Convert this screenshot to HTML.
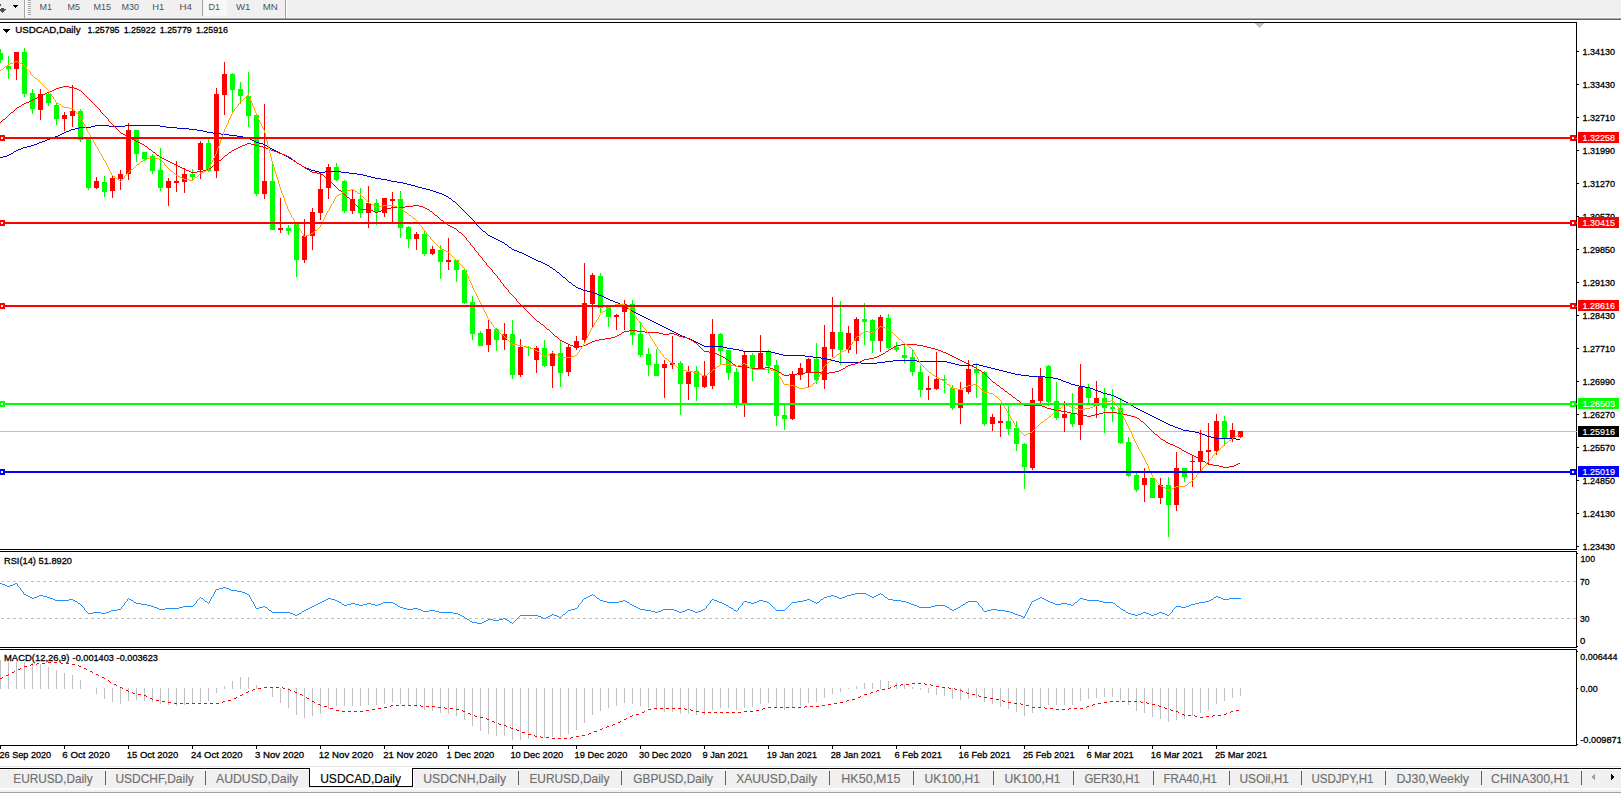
<!DOCTYPE html>
<html lang="en"><head><meta charset="utf-8"><title>USDCAD,Daily</title>
<style>html,body{margin:0;padding:0;background:#fff;overflow:hidden}svg{display:block}text{font-family:"Liberation Sans",sans-serif;white-space:pre}</style>
</head><body>
<svg width="1621" height="793" viewBox="0 0 1621 793">
<rect x="0" y="0" width="1621" height="793" fill="#fff"/>
<g shape-rendering="crispEdges">
<rect x="0" y="0" width="1621" height="17" fill="#f0f0f0"/>
<rect x="0" y="17" width="1621" height="1" fill="#f6f6f6"/>
<rect x="0" y="18" width="1621" height="1" fill="#a6a6a6"/>
<rect x="0" y="19" width="1621" height="1" fill="#666666"/>
<rect x="0" y="4" width="1" height="2" fill="#505050"/>
<rect x="1" y="8" width="3" height="1" fill="#505050"/>
<rect x="0" y="9" width="6" height="1" fill="#505050"/>
<rect x="0" y="10" width="5" height="1" fill="#505050"/>
<rect x="1" y="11" width="3" height="1" fill="#505050"/>
<rect x="2" y="12" width="1" height="1" fill="#505050"/>
<rect x="13" y="5" width="5" height="1" fill="#000"/>
<rect x="14" y="6" width="3" height="1" fill="#000"/>
<rect x="15" y="7" width="1" height="1" fill="#000"/>
<rect x="24" y="0" width="1" height="18" fill="#a0a0a0"/>
<rect x="25" y="0" width="1" height="17" fill="#fff"/>
<rect x="28" y="0" width="3" height="1" fill="#a8a8a8"/>
<rect x="28" y="2" width="3" height="1" fill="#a8a8a8"/>
<rect x="28" y="4" width="3" height="1" fill="#a8a8a8"/>
<rect x="28" y="6" width="3" height="1" fill="#a8a8a8"/>
<rect x="28" y="8" width="3" height="1" fill="#a8a8a8"/>
<rect x="28" y="10" width="3" height="1" fill="#a8a8a8"/>
<rect x="28" y="12" width="3" height="1" fill="#a8a8a8"/>
<rect x="28" y="14" width="3" height="1" fill="#a8a8a8"/>
<rect x="202" y="0" width="1" height="16" fill="#a0a0a0"/>
<rect x="203" y="0" width="24" height="16" fill="#f7f7f7"/>
<rect x="285" y="0" width="1" height="18" fill="#a0a0a0"/>
<rect x="286" y="0" width="1" height="17" fill="#fff"/>
<rect x="0" y="22" width="1577" height="1" fill="#000"/>
<rect x="1576" y="22" width="1" height="528" fill="#000"/>
<rect x="0" y="549" width="1577" height="1" fill="#000"/>
<rect x="0" y="551" width="1577" height="1" fill="#000"/>
<rect x="1576" y="551" width="1" height="97" fill="#000"/>
<rect x="0" y="647" width="1577" height="1" fill="#000"/>
<rect x="0" y="649" width="1577" height="1" fill="#000"/>
<rect x="1576" y="649" width="1" height="97" fill="#000"/>
<rect x="0" y="745" width="1577" height="1" fill="#000"/>
<path d="M1255 23h9v1h-9zM1256 24h7v1h-7zM1257 25h5v1h-5zM1258 26h3v1h-3zM1259 27h1v1h-1z" fill="#c0c0c0"/>
<rect x="0" y="746" width="1" height="3" fill="#000"/>
<rect x="64" y="746" width="1" height="3" fill="#000"/>
<rect x="128" y="746" width="1" height="3" fill="#000"/>
<rect x="192" y="746" width="1" height="3" fill="#000"/>
<rect x="256" y="746" width="1" height="3" fill="#000"/>
<rect x="320" y="746" width="1" height="3" fill="#000"/>
<rect x="384" y="746" width="1" height="3" fill="#000"/>
<rect x="448" y="746" width="1" height="3" fill="#000"/>
<rect x="512" y="746" width="1" height="3" fill="#000"/>
<rect x="576" y="746" width="1" height="3" fill="#000"/>
<rect x="640" y="746" width="1" height="3" fill="#000"/>
<rect x="704" y="746" width="1" height="3" fill="#000"/>
<rect x="768" y="746" width="1" height="3" fill="#000"/>
<rect x="832" y="746" width="1" height="3" fill="#000"/>
<rect x="896" y="746" width="1" height="3" fill="#000"/>
<rect x="960" y="746" width="1" height="3" fill="#000"/>
<rect x="1024" y="746" width="1" height="3" fill="#000"/>
<rect x="1088" y="746" width="1" height="3" fill="#000"/>
<rect x="1152" y="746" width="1" height="3" fill="#000"/>
<rect x="1216" y="746" width="1" height="3" fill="#000"/>
<rect x="1577" y="51" width="2" height="1" fill="#000"/>
<rect x="1577" y="84" width="2" height="1" fill="#000"/>
<rect x="1577" y="117" width="2" height="1" fill="#000"/>
<rect x="1577" y="150" width="2" height="1" fill="#000"/>
<rect x="1577" y="183" width="2" height="1" fill="#000"/>
<rect x="1577" y="216" width="2" height="1" fill="#000"/>
<rect x="1577" y="249" width="2" height="1" fill="#000"/>
<rect x="1577" y="282" width="2" height="1" fill="#000"/>
<rect x="1577" y="315" width="2" height="1" fill="#000"/>
<rect x="1577" y="348" width="2" height="1" fill="#000"/>
<rect x="1577" y="381" width="2" height="1" fill="#000"/>
<rect x="1577" y="414" width="2" height="1" fill="#000"/>
<rect x="1577" y="447" width="2" height="1" fill="#000"/>
<rect x="1577" y="480" width="2" height="1" fill="#000"/>
<rect x="1577" y="513" width="2" height="1" fill="#000"/>
<rect x="1577" y="546" width="2" height="1" fill="#000"/>
<rect x="1577" y="553" width="1" height="1" fill="#000"/>
<rect x="1577" y="646" width="1" height="1" fill="#000"/>
<rect x="1577" y="651" width="1" height="1" fill="#000"/>
<rect x="1577" y="688" width="1" height="1" fill="#000"/>
<rect x="1577" y="744" width="1" height="1" fill="#000"/>
<rect x="0" y="431" width="1577" height="1" fill="#c0c0c0"/>
<rect x="0" y="49" width="1" height="14" fill="#00ff00"/>
<rect x="0" y="53" width="3" height="7" fill="#00ff00"/>
<rect x="8" y="56" width="1" height="23" fill="#00ff00"/>
<rect x="6" y="66" width="5" height="3" fill="#00ff00"/>
<rect x="16" y="52" width="1" height="28" fill="#ff0000"/>
<rect x="14" y="52" width="5" height="17" fill="#ff0000"/>
<rect x="24" y="48" width="1" height="49" fill="#00ff00"/>
<rect x="22" y="52" width="5" height="42" fill="#00ff00"/>
<rect x="32" y="89" width="1" height="25" fill="#00ff00"/>
<rect x="30" y="93" width="5" height="16" fill="#00ff00"/>
<rect x="40" y="89" width="1" height="31" fill="#ff0000"/>
<rect x="38" y="94" width="5" height="16" fill="#ff0000"/>
<rect x="48" y="93" width="1" height="13" fill="#00ff00"/>
<rect x="46" y="94" width="5" height="9" fill="#00ff00"/>
<rect x="56" y="103" width="1" height="22" fill="#00ff00"/>
<rect x="54" y="105" width="5" height="14" fill="#00ff00"/>
<rect x="64" y="112" width="1" height="19" fill="#ff0000"/>
<rect x="62" y="115" width="5" height="4" fill="#ff0000"/>
<rect x="72" y="85" width="1" height="42" fill="#ff0000"/>
<rect x="70" y="111" width="5" height="5" fill="#ff0000"/>
<rect x="80" y="109" width="1" height="33" fill="#00ff00"/>
<rect x="78" y="111" width="5" height="29" fill="#00ff00"/>
<rect x="88" y="139" width="1" height="51" fill="#00ff00"/>
<rect x="86" y="139" width="5" height="49" fill="#00ff00"/>
<rect x="96" y="177" width="1" height="12" fill="#ff0000"/>
<rect x="94" y="181" width="5" height="7" fill="#ff0000"/>
<rect x="104" y="176" width="1" height="21" fill="#00ff00"/>
<rect x="102" y="182" width="5" height="10" fill="#00ff00"/>
<rect x="112" y="175" width="1" height="23" fill="#ff0000"/>
<rect x="110" y="178" width="5" height="13" fill="#ff0000"/>
<rect x="120" y="170" width="1" height="20" fill="#ff0000"/>
<rect x="118" y="174" width="5" height="5" fill="#ff0000"/>
<rect x="128" y="123" width="1" height="57" fill="#ff0000"/>
<rect x="126" y="130" width="5" height="44" fill="#ff0000"/>
<rect x="136" y="130" width="1" height="32" fill="#00ff00"/>
<rect x="134" y="130" width="5" height="24" fill="#00ff00"/>
<rect x="144" y="152" width="1" height="9" fill="#00ff00"/>
<rect x="142" y="152" width="5" height="7" fill="#00ff00"/>
<rect x="152" y="154" width="1" height="20" fill="#00ff00"/>
<rect x="150" y="156" width="5" height="15" fill="#00ff00"/>
<rect x="160" y="148" width="1" height="43" fill="#00ff00"/>
<rect x="158" y="170" width="5" height="18" fill="#00ff00"/>
<rect x="168" y="178" width="1" height="28" fill="#ff0000"/>
<rect x="166" y="181" width="5" height="7" fill="#ff0000"/>
<rect x="176" y="161" width="1" height="31" fill="#ff0000"/>
<rect x="174" y="181" width="5" height="2" fill="#ff0000"/>
<rect x="184" y="168" width="1" height="25" fill="#ff0000"/>
<rect x="182" y="174" width="5" height="8" fill="#ff0000"/>
<rect x="192" y="169" width="1" height="11" fill="#00ff00"/>
<rect x="190" y="174" width="5" height="3" fill="#00ff00"/>
<rect x="200" y="141" width="1" height="38" fill="#ff0000"/>
<rect x="198" y="143" width="5" height="27" fill="#ff0000"/>
<rect x="208" y="139" width="1" height="33" fill="#00ff00"/>
<rect x="206" y="143" width="5" height="28" fill="#00ff00"/>
<rect x="216" y="88" width="1" height="90" fill="#ff0000"/>
<rect x="214" y="94" width="5" height="77" fill="#ff0000"/>
<rect x="224" y="62" width="1" height="53" fill="#ff0000"/>
<rect x="222" y="74" width="5" height="21" fill="#ff0000"/>
<rect x="232" y="73" width="1" height="41" fill="#00ff00"/>
<rect x="230" y="74" width="5" height="16" fill="#00ff00"/>
<rect x="240" y="82" width="1" height="22" fill="#00ff00"/>
<rect x="238" y="89" width="5" height="7" fill="#00ff00"/>
<rect x="248" y="72" width="1" height="55" fill="#00ff00"/>
<rect x="246" y="96" width="5" height="20" fill="#00ff00"/>
<rect x="256" y="115" width="1" height="81" fill="#00ff00"/>
<rect x="254" y="115" width="5" height="79" fill="#00ff00"/>
<rect x="264" y="104" width="1" height="95" fill="#ff0000"/>
<rect x="262" y="181" width="5" height="13" fill="#ff0000"/>
<rect x="272" y="161" width="1" height="69" fill="#00ff00"/>
<rect x="270" y="181" width="5" height="49" fill="#00ff00"/>
<rect x="280" y="198" width="1" height="35" fill="#ff0000"/>
<rect x="278" y="228" width="5" height="2" fill="#ff0000"/>
<rect x="288" y="225" width="1" height="10" fill="#00ff00"/>
<rect x="286" y="228" width="5" height="3" fill="#00ff00"/>
<rect x="296" y="224" width="1" height="53" fill="#00ff00"/>
<rect x="294" y="224" width="5" height="36" fill="#00ff00"/>
<rect x="304" y="219" width="1" height="44" fill="#ff0000"/>
<rect x="302" y="236" width="5" height="24" fill="#ff0000"/>
<rect x="312" y="208" width="1" height="42" fill="#ff0000"/>
<rect x="310" y="212" width="5" height="24" fill="#ff0000"/>
<rect x="320" y="174" width="1" height="46" fill="#ff0000"/>
<rect x="318" y="189" width="5" height="24" fill="#ff0000"/>
<rect x="328" y="164" width="1" height="35" fill="#ff0000"/>
<rect x="326" y="167" width="5" height="21" fill="#ff0000"/>
<rect x="336" y="163" width="1" height="18" fill="#00ff00"/>
<rect x="334" y="167" width="5" height="13" fill="#00ff00"/>
<rect x="344" y="180" width="1" height="33" fill="#00ff00"/>
<rect x="342" y="181" width="5" height="30" fill="#00ff00"/>
<rect x="352" y="190" width="1" height="24" fill="#ff0000"/>
<rect x="350" y="199" width="5" height="12" fill="#ff0000"/>
<rect x="360" y="188" width="1" height="30" fill="#00ff00"/>
<rect x="358" y="199" width="5" height="14" fill="#00ff00"/>
<rect x="368" y="186" width="1" height="42" fill="#ff0000"/>
<rect x="366" y="203" width="5" height="10" fill="#ff0000"/>
<rect x="376" y="199" width="1" height="26" fill="#00ff00"/>
<rect x="374" y="203" width="5" height="9" fill="#00ff00"/>
<rect x="384" y="198" width="1" height="19" fill="#ff0000"/>
<rect x="382" y="198" width="5" height="15" fill="#ff0000"/>
<rect x="392" y="192" width="1" height="31" fill="#ff0000"/>
<rect x="390" y="199" width="5" height="2" fill="#ff0000"/>
<rect x="400" y="191" width="1" height="47" fill="#00ff00"/>
<rect x="398" y="199" width="5" height="29" fill="#00ff00"/>
<rect x="408" y="226" width="1" height="22" fill="#00ff00"/>
<rect x="406" y="227" width="5" height="12" fill="#00ff00"/>
<rect x="416" y="232" width="1" height="18" fill="#ff0000"/>
<rect x="414" y="234" width="5" height="5" fill="#ff0000"/>
<rect x="424" y="231" width="1" height="25" fill="#00ff00"/>
<rect x="422" y="234" width="5" height="20" fill="#00ff00"/>
<rect x="432" y="246" width="1" height="9" fill="#ff0000"/>
<rect x="430" y="249" width="5" height="5" fill="#ff0000"/>
<rect x="440" y="245" width="1" height="34" fill="#00ff00"/>
<rect x="438" y="250" width="5" height="12" fill="#00ff00"/>
<rect x="448" y="238" width="1" height="32" fill="#ff0000"/>
<rect x="446" y="260" width="5" height="2" fill="#ff0000"/>
<rect x="456" y="260" width="1" height="22" fill="#00ff00"/>
<rect x="454" y="260" width="5" height="10" fill="#00ff00"/>
<rect x="464" y="270" width="1" height="34" fill="#00ff00"/>
<rect x="462" y="270" width="5" height="33" fill="#00ff00"/>
<rect x="472" y="296" width="1" height="44" fill="#00ff00"/>
<rect x="470" y="302" width="5" height="32" fill="#00ff00"/>
<rect x="480" y="331" width="1" height="15" fill="#00ff00"/>
<rect x="478" y="333" width="5" height="13" fill="#00ff00"/>
<rect x="488" y="320" width="1" height="32" fill="#ff0000"/>
<rect x="486" y="329" width="5" height="16" fill="#ff0000"/>
<rect x="496" y="328" width="1" height="23" fill="#00ff00"/>
<rect x="494" y="329" width="5" height="11" fill="#00ff00"/>
<rect x="504" y="323" width="1" height="27" fill="#ff0000"/>
<rect x="502" y="334" width="5" height="6" fill="#ff0000"/>
<rect x="512" y="320" width="1" height="59" fill="#00ff00"/>
<rect x="510" y="334" width="5" height="41" fill="#00ff00"/>
<rect x="520" y="339" width="1" height="38" fill="#ff0000"/>
<rect x="518" y="347" width="5" height="28" fill="#ff0000"/>
<rect x="528" y="346" width="1" height="10" fill="#00ff00"/>
<rect x="526" y="347" width="5" height="1" fill="#00ff00"/>
<rect x="536" y="346" width="1" height="27" fill="#ff0000"/>
<rect x="534" y="348" width="5" height="12" fill="#ff0000"/>
<rect x="544" y="340" width="1" height="27" fill="#00ff00"/>
<rect x="542" y="348" width="5" height="18" fill="#00ff00"/>
<rect x="552" y="351" width="1" height="37" fill="#ff0000"/>
<rect x="550" y="353" width="5" height="13" fill="#ff0000"/>
<rect x="560" y="341" width="1" height="46" fill="#00ff00"/>
<rect x="558" y="353" width="5" height="20" fill="#00ff00"/>
<rect x="568" y="344" width="1" height="32" fill="#ff0000"/>
<rect x="566" y="347" width="5" height="25" fill="#ff0000"/>
<rect x="576" y="336" width="1" height="14" fill="#ff0000"/>
<rect x="574" y="341" width="5" height="7" fill="#ff0000"/>
<rect x="584" y="263" width="1" height="79" fill="#ff0000"/>
<rect x="582" y="303" width="5" height="37" fill="#ff0000"/>
<rect x="592" y="273" width="1" height="55" fill="#ff0000"/>
<rect x="590" y="275" width="5" height="29" fill="#ff0000"/>
<rect x="600" y="273" width="1" height="40" fill="#00ff00"/>
<rect x="598" y="276" width="5" height="32" fill="#00ff00"/>
<rect x="608" y="306" width="1" height="21" fill="#00ff00"/>
<rect x="606" y="306" width="5" height="11" fill="#00ff00"/>
<rect x="616" y="314" width="1" height="16" fill="#ff0000"/>
<rect x="614" y="315" width="5" height="2" fill="#ff0000"/>
<rect x="624" y="300" width="1" height="30" fill="#ff0000"/>
<rect x="622" y="304" width="5" height="8" fill="#ff0000"/>
<rect x="632" y="300" width="1" height="45" fill="#00ff00"/>
<rect x="630" y="304" width="5" height="31" fill="#00ff00"/>
<rect x="640" y="322" width="1" height="35" fill="#00ff00"/>
<rect x="638" y="334" width="5" height="21" fill="#00ff00"/>
<rect x="648" y="348" width="1" height="28" fill="#00ff00"/>
<rect x="646" y="354" width="5" height="11" fill="#00ff00"/>
<rect x="656" y="349" width="1" height="27" fill="#00ff00"/>
<rect x="654" y="364" width="5" height="12" fill="#00ff00"/>
<rect x="664" y="360" width="1" height="38" fill="#ff0000"/>
<rect x="662" y="364" width="5" height="4" fill="#ff0000"/>
<rect x="672" y="336" width="1" height="33" fill="#ff0000"/>
<rect x="670" y="363" width="5" height="2" fill="#ff0000"/>
<rect x="680" y="361" width="1" height="54" fill="#00ff00"/>
<rect x="678" y="363" width="5" height="21" fill="#00ff00"/>
<rect x="688" y="366" width="1" height="34" fill="#ff0000"/>
<rect x="686" y="372" width="5" height="12" fill="#ff0000"/>
<rect x="696" y="366" width="1" height="35" fill="#00ff00"/>
<rect x="694" y="371" width="5" height="16" fill="#00ff00"/>
<rect x="704" y="361" width="1" height="27" fill="#ff0000"/>
<rect x="702" y="376" width="5" height="11" fill="#ff0000"/>
<rect x="712" y="319" width="1" height="70" fill="#ff0000"/>
<rect x="710" y="334" width="5" height="52" fill="#ff0000"/>
<rect x="720" y="333" width="1" height="31" fill="#00ff00"/>
<rect x="718" y="334" width="5" height="17" fill="#00ff00"/>
<rect x="728" y="350" width="1" height="30" fill="#00ff00"/>
<rect x="726" y="350" width="5" height="23" fill="#00ff00"/>
<rect x="736" y="368" width="1" height="40" fill="#00ff00"/>
<rect x="734" y="372" width="5" height="32" fill="#00ff00"/>
<rect x="744" y="351" width="1" height="66" fill="#ff0000"/>
<rect x="742" y="355" width="5" height="48" fill="#ff0000"/>
<rect x="752" y="353" width="1" height="28" fill="#00ff00"/>
<rect x="750" y="355" width="5" height="14" fill="#00ff00"/>
<rect x="760" y="335" width="1" height="34" fill="#ff0000"/>
<rect x="758" y="353" width="5" height="16" fill="#ff0000"/>
<rect x="768" y="350" width="1" height="23" fill="#00ff00"/>
<rect x="766" y="351" width="5" height="15" fill="#00ff00"/>
<rect x="776" y="360" width="1" height="66" fill="#00ff00"/>
<rect x="774" y="365" width="5" height="51" fill="#00ff00"/>
<rect x="784" y="405" width="1" height="25" fill="#00ff00"/>
<rect x="782" y="415" width="5" height="4" fill="#00ff00"/>
<rect x="792" y="371" width="1" height="49" fill="#ff0000"/>
<rect x="790" y="374" width="5" height="45" fill="#ff0000"/>
<rect x="800" y="363" width="1" height="17" fill="#ff0000"/>
<rect x="798" y="368" width="5" height="7" fill="#ff0000"/>
<rect x="808" y="358" width="1" height="29" fill="#ff0000"/>
<rect x="806" y="359" width="5" height="14" fill="#ff0000"/>
<rect x="816" y="343" width="1" height="41" fill="#00ff00"/>
<rect x="814" y="359" width="5" height="21" fill="#00ff00"/>
<rect x="824" y="325" width="1" height="64" fill="#ff0000"/>
<rect x="822" y="347" width="5" height="33" fill="#ff0000"/>
<rect x="832" y="297" width="1" height="60" fill="#ff0000"/>
<rect x="830" y="332" width="5" height="17" fill="#ff0000"/>
<rect x="840" y="301" width="1" height="64" fill="#00ff00"/>
<rect x="838" y="332" width="5" height="18" fill="#00ff00"/>
<rect x="848" y="326" width="1" height="27" fill="#ff0000"/>
<rect x="846" y="333" width="5" height="17" fill="#ff0000"/>
<rect x="856" y="317" width="1" height="37" fill="#ff0000"/>
<rect x="854" y="319" width="5" height="22" fill="#ff0000"/>
<rect x="864" y="303" width="1" height="42" fill="#00ff00"/>
<rect x="862" y="319" width="5" height="3" fill="#00ff00"/>
<rect x="872" y="319" width="1" height="34" fill="#00ff00"/>
<rect x="870" y="320" width="5" height="21" fill="#00ff00"/>
<rect x="880" y="315" width="1" height="37" fill="#ff0000"/>
<rect x="878" y="317" width="5" height="24" fill="#ff0000"/>
<rect x="888" y="314" width="1" height="35" fill="#00ff00"/>
<rect x="886" y="318" width="5" height="30" fill="#00ff00"/>
<rect x="896" y="342" width="1" height="10" fill="#00ff00"/>
<rect x="894" y="347" width="5" height="3" fill="#00ff00"/>
<rect x="904" y="343" width="1" height="20" fill="#00ff00"/>
<rect x="902" y="355" width="5" height="3" fill="#00ff00"/>
<rect x="912" y="349" width="1" height="27" fill="#00ff00"/>
<rect x="910" y="357" width="5" height="15" fill="#00ff00"/>
<rect x="920" y="365" width="1" height="32" fill="#00ff00"/>
<rect x="918" y="372" width="5" height="18" fill="#00ff00"/>
<rect x="928" y="376" width="1" height="24" fill="#ff0000"/>
<rect x="926" y="388" width="5" height="2" fill="#ff0000"/>
<rect x="936" y="352" width="1" height="38" fill="#ff0000"/>
<rect x="934" y="379" width="5" height="10" fill="#ff0000"/>
<rect x="944" y="375" width="1" height="18" fill="#00ff00"/>
<rect x="942" y="379" width="5" height="1" fill="#00ff00"/>
<rect x="952" y="385" width="1" height="25" fill="#00ff00"/>
<rect x="950" y="388" width="5" height="20" fill="#00ff00"/>
<rect x="960" y="382" width="1" height="42" fill="#ff0000"/>
<rect x="958" y="390" width="5" height="18" fill="#ff0000"/>
<rect x="968" y="360" width="1" height="34" fill="#ff0000"/>
<rect x="966" y="369" width="5" height="23" fill="#ff0000"/>
<rect x="976" y="363" width="1" height="35" fill="#00ff00"/>
<rect x="974" y="369" width="5" height="4" fill="#00ff00"/>
<rect x="984" y="371" width="1" height="55" fill="#00ff00"/>
<rect x="982" y="372" width="5" height="52" fill="#00ff00"/>
<rect x="992" y="414" width="1" height="17" fill="#ff0000"/>
<rect x="990" y="417" width="5" height="7" fill="#ff0000"/>
<rect x="1000" y="405" width="1" height="32" fill="#ff0000"/>
<rect x="998" y="421" width="5" height="2" fill="#ff0000"/>
<rect x="1008" y="406" width="1" height="29" fill="#00ff00"/>
<rect x="1006" y="421" width="5" height="8" fill="#00ff00"/>
<rect x="1016" y="421" width="1" height="30" fill="#00ff00"/>
<rect x="1014" y="428" width="5" height="16" fill="#00ff00"/>
<rect x="1024" y="443" width="1" height="46" fill="#00ff00"/>
<rect x="1022" y="444" width="5" height="23" fill="#00ff00"/>
<rect x="1032" y="388" width="1" height="82" fill="#ff0000"/>
<rect x="1030" y="400" width="5" height="68" fill="#ff0000"/>
<rect x="1040" y="368" width="1" height="35" fill="#ff0000"/>
<rect x="1038" y="376" width="5" height="25" fill="#ff0000"/>
<rect x="1048" y="365" width="1" height="41" fill="#00ff00"/>
<rect x="1046" y="366" width="5" height="36" fill="#00ff00"/>
<rect x="1056" y="382" width="1" height="38" fill="#00ff00"/>
<rect x="1054" y="401" width="5" height="17" fill="#00ff00"/>
<rect x="1064" y="401" width="1" height="31" fill="#ff0000"/>
<rect x="1062" y="414" width="5" height="4" fill="#ff0000"/>
<rect x="1072" y="393" width="1" height="34" fill="#00ff00"/>
<rect x="1070" y="414" width="5" height="10" fill="#00ff00"/>
<rect x="1080" y="364" width="1" height="76" fill="#ff0000"/>
<rect x="1078" y="387" width="5" height="38" fill="#ff0000"/>
<rect x="1088" y="384" width="1" height="19" fill="#00ff00"/>
<rect x="1086" y="388" width="5" height="10" fill="#00ff00"/>
<rect x="1096" y="381" width="1" height="37" fill="#ff0000"/>
<rect x="1094" y="398" width="5" height="8" fill="#ff0000"/>
<rect x="1104" y="388" width="1" height="45" fill="#00ff00"/>
<rect x="1102" y="398" width="5" height="10" fill="#00ff00"/>
<rect x="1112" y="389" width="1" height="33" fill="#00ff00"/>
<rect x="1110" y="407" width="5" height="2" fill="#00ff00"/>
<rect x="1120" y="398" width="1" height="46" fill="#00ff00"/>
<rect x="1118" y="408" width="5" height="35" fill="#00ff00"/>
<rect x="1128" y="437" width="1" height="40" fill="#00ff00"/>
<rect x="1126" y="442" width="5" height="34" fill="#00ff00"/>
<rect x="1136" y="473" width="1" height="19" fill="#00ff00"/>
<rect x="1134" y="475" width="5" height="15" fill="#00ff00"/>
<rect x="1144" y="468" width="1" height="34" fill="#ff0000"/>
<rect x="1142" y="478" width="5" height="7" fill="#ff0000"/>
<rect x="1152" y="478" width="1" height="20" fill="#00ff00"/>
<rect x="1150" y="478" width="5" height="20" fill="#00ff00"/>
<rect x="1160" y="478" width="1" height="26" fill="#ff0000"/>
<rect x="1158" y="485" width="5" height="13" fill="#ff0000"/>
<rect x="1168" y="477" width="1" height="60" fill="#00ff00"/>
<rect x="1166" y="485" width="5" height="20" fill="#00ff00"/>
<rect x="1176" y="452" width="1" height="59" fill="#ff0000"/>
<rect x="1174" y="468" width="5" height="37" fill="#ff0000"/>
<rect x="1184" y="468" width="1" height="14" fill="#00ff00"/>
<rect x="1182" y="468" width="5" height="9" fill="#00ff00"/>
<rect x="1192" y="455" width="1" height="32" fill="#ff0000"/>
<rect x="1190" y="461" width="5" height="1" fill="#ff0000"/>
<rect x="1200" y="430" width="1" height="41" fill="#ff0000"/>
<rect x="1198" y="451" width="5" height="11" fill="#ff0000"/>
<rect x="1208" y="423" width="1" height="41" fill="#ff0000"/>
<rect x="1206" y="450" width="5" height="2" fill="#ff0000"/>
<rect x="1216" y="414" width="1" height="41" fill="#ff0000"/>
<rect x="1214" y="421" width="5" height="30" fill="#ff0000"/>
<rect x="1224" y="416" width="1" height="30" fill="#00ff00"/>
<rect x="1222" y="421" width="5" height="17" fill="#00ff00"/>
<rect x="1232" y="423" width="1" height="19" fill="#ff0000"/>
<rect x="1230" y="430" width="5" height="8" fill="#ff0000"/>
<rect x="1240" y="431" width="1" height="7" fill="#ff0000"/>
<rect x="1238" y="431" width="5" height="6" fill="#ff0000"/>
<path d="M95 125h14v1h-14zM125 125h35v1h-35zM91 126h4v1h-4zM109 126h16v1h-16zM160 126h6v1h-6zM79 127h12v1h-12zM166 127h11v1h-11zM75 128h4v1h-4zM177 128h12v1h-12zM71 129h4v1h-4zM189 129h8v1h-8zM69 130h2v1h-2zM197 130h6v1h-6zM66 131h3v1h-3zM203 131h4v1h-4zM64 132h2v1h-2zM207 132h6v1h-6zM62 133h2v1h-2zM213 133h8v1h-8zM60 134h2v1h-2zM221 134h8v1h-8zM58 135h2v1h-2zM229 135h8v1h-8zM55 136h3v1h-3zM237 136h6v1h-6zM53 137h2v1h-2zM243 137h4v1h-4zM50 138h3v1h-3zM247 138h3v1h-3zM47 139h3v1h-3zM250 139h2v1h-2zM45 140h2v1h-2zM252 140h2v1h-2zM42 141h3v1h-3zM254 141h2v1h-2zM39 142h3v1h-3zM256 142h3v1h-3zM37 143h2v1h-2zM259 143h4v1h-4zM34 144h3v1h-3zM263 144h2v1h-2zM31 145h3v1h-3zM265 145h2v1h-2zM27 146h4v1h-4zM267 146h2v1h-2zM23 147h4v1h-4zM269 147h1v1h-1zM21 148h2v1h-2zM270 148h2v1h-2zM18 149h3v1h-3zM272 149h2v1h-2zM16 150h2v1h-2zM274 150h2v1h-2zM14 151h2v1h-2zM276 151h2v1h-2zM13 152h1v1h-1zM278 152h2v1h-2zM11 153h2v1h-2zM280 153h2v1h-2zM9 154h2v1h-2zM282 154h2v1h-2zM7 155h2v1h-2zM284 155h2v1h-2zM3 156h4v1h-4zM286 156h2v1h-2zM0 157h3v1h-3zM288 157h1v1h-1zM289 158h2v1h-2zM291 159h2v1h-2zM293 160h1v1h-1zM294 161h2v1h-2zM296 162h1v1h-1zM297 163h2v1h-2zM299 164h2v1h-2zM301 165h1v1h-1zM302 166h2v1h-2zM304 167h2v1h-2zM306 168h3v1h-3zM309 169h2v1h-2zM311 170h4v1h-4zM315 171h4v1h-4zM325 171h16v1h-16zM319 172h6v1h-6zM341 172h8v1h-8zM349 173h8v1h-8zM357 174h6v1h-6zM363 175h4v1h-4zM367 176h4v1h-4zM371 177h4v1h-4zM375 178h6v1h-6zM381 179h6v1h-6zM387 180h4v1h-4zM391 181h6v1h-6zM397 182h6v1h-6zM403 183h4v1h-4zM407 184h4v1h-4zM411 185h4v1h-4zM415 186h3v1h-3zM418 187h4v1h-4zM422 188h4v1h-4zM426 189h4v1h-4zM430 190h3v1h-3zM433 191h3v1h-3zM436 192h3v1h-3zM439 193h3v1h-3zM442 194h2v1h-2zM444 195h2v1h-2zM446 196h2v1h-2zM448 197h1v1h-1zM449 198h2v1h-2zM451 199h1v1h-1zM452 200h1v1h-1zM453 201h2v1h-2zM455 202h1v1h-1zM456 203h1v1h-1zM457 204h1v1h-1zM458 205h1v1h-1zM459 206h1v1h-1zM460 207h1v1h-1zM461 208h1v1h-1zM462 209h1v1h-1zM463 210h1v1h-1zM464 211h1v1h-1zM465 212h1v1h-1zM466 213h1v1h-1zM467 214h1v1h-1zM468 215h1v1h-1zM469 216h1v1h-1zM470 217h1v1h-1zM471 218h1v1h-1zM472 219h1v1h-1zM473 220h1v1h-1zM474 221h1v1h-1zM475 222h1v1h-1zM476 223h1v2h-1zM477 225h1v1h-1zM478 226h1v1h-1zM479 227h1v1h-1zM480 228h1v1h-1zM481 229h1v1h-1zM482 230h1v1h-1zM483 231h2v1h-2zM485 232h1v1h-1zM486 233h1v1h-1zM487 234h1v1h-1zM488 235h2v1h-2zM490 236h2v1h-2zM492 237h2v1h-2zM494 238h2v1h-2zM496 239h2v1h-2zM498 240h2v1h-2zM500 241h2v1h-2zM502 242h2v1h-2zM504 243h1v1h-1zM505 244h2v1h-2zM507 245h1v1h-1zM508 246h1v1h-1zM509 247h2v1h-2zM511 248h1v1h-1zM512 249h2v1h-2zM514 250h3v1h-3zM517 251h2v1h-2zM519 252h3v1h-3zM522 253h2v1h-2zM524 254h2v1h-2zM526 255h2v1h-2zM528 256h2v1h-2zM530 257h2v1h-2zM532 258h2v1h-2zM534 259h2v1h-2zM536 260h2v1h-2zM538 261h3v1h-3zM541 262h2v1h-2zM543 263h2v1h-2zM545 264h2v1h-2zM547 265h2v1h-2zM549 266h1v1h-1zM550 267h2v1h-2zM552 268h1v1h-1zM553 269h2v1h-2zM555 270h1v1h-1zM556 271h1v1h-1zM557 272h2v1h-2zM559 273h1v1h-1zM560 274h1v1h-1zM561 275h1v1h-1zM562 276h1v1h-1zM563 277h2v1h-2zM565 278h1v1h-1zM566 279h1v1h-1zM567 280h1v1h-1zM568 281h1v1h-1zM569 282h2v1h-2zM571 283h1v1h-1zM572 284h1v1h-1zM573 285h2v1h-2zM575 286h1v1h-1zM576 287h2v1h-2zM578 288h3v1h-3zM581 289h2v1h-2zM583 290h4v1h-4zM587 291h4v1h-4zM591 292h3v1h-3zM594 293h3v1h-3zM597 294h2v1h-2zM599 295h3v1h-3zM602 296h2v1h-2zM604 297h2v1h-2zM606 298h2v1h-2zM608 299h2v1h-2zM610 300h3v1h-3zM613 301h2v1h-2zM615 302h3v1h-3zM618 303h2v1h-2zM620 304h2v1h-2zM622 305h2v1h-2zM624 306h1v1h-1zM625 307h2v1h-2zM627 308h2v1h-2zM629 309h1v1h-1zM630 310h2v1h-2zM632 311h2v1h-2zM634 312h2v1h-2zM636 313h2v1h-2zM638 314h2v1h-2zM640 315h2v1h-2zM642 316h2v1h-2zM644 317h2v1h-2zM646 318h2v1h-2zM648 319h2v1h-2zM650 320h2v1h-2zM652 321h2v1h-2zM654 322h2v1h-2zM656 323h2v1h-2zM658 324h2v1h-2zM660 325h2v1h-2zM662 326h2v1h-2zM664 327h2v1h-2zM666 328h2v1h-2zM668 329h2v1h-2zM670 330h2v1h-2zM672 331h2v1h-2zM674 332h2v1h-2zM676 333h2v1h-2zM678 334h2v1h-2zM680 335h2v1h-2zM682 336h3v1h-3zM685 337h2v1h-2zM687 338h3v1h-3zM690 339h2v1h-2zM692 340h2v1h-2zM694 341h2v1h-2zM696 342h2v1h-2zM698 343h2v1h-2zM700 344h2v1h-2zM702 345h2v1h-2zM704 346h19v1h-19zM723 347h4v1h-4zM727 348h6v1h-6zM733 349h6v1h-6zM739 350h4v1h-4zM743 351h28v1h-28zM771 352h4v1h-4zM775 353h4v1h-4zM779 354h4v1h-4zM783 355h22v1h-22zM805 356h8v1h-8zM813 357h8v1h-8zM821 358h6v1h-6zM827 359h4v1h-4zM831 360h4v1h-4zM893 360h24v1h-24zM835 361h4v1h-4zM885 361h8v1h-8zM917 361h30v1h-30zM839 362h22v1h-22zM877 362h8v1h-8zM947 362h4v1h-4zM861 363h16v1h-16zM951 363h4v1h-4zM955 364h4v1h-4zM973 364h6v1h-6zM959 365h14v1h-14zM979 365h4v1h-4zM983 366h4v1h-4zM987 367h4v1h-4zM991 368h4v1h-4zM995 369h4v1h-4zM999 370h4v1h-4zM1003 371h4v1h-4zM1007 372h4v1h-4zM1011 373h4v1h-4zM1015 374h6v1h-6zM1021 375h8v1h-8zM1029 376h16v1h-16zM1045 377h8v1h-8zM1053 378h5v1h-5zM1058 379h3v1h-3zM1061 380h2v1h-2zM1063 381h3v1h-3zM1066 382h3v1h-3zM1069 383h2v1h-2zM1071 384h4v1h-4zM1075 385h4v1h-4zM1079 386h6v1h-6zM1085 387h5v1h-5zM1090 388h3v1h-3zM1093 389h2v1h-2zM1095 390h3v1h-3zM1098 391h3v1h-3zM1101 392h2v1h-2zM1103 393h4v1h-4zM1107 394h4v1h-4zM1111 395h3v1h-3zM1114 396h2v1h-2zM1116 397h2v1h-2zM1118 398h2v1h-2zM1120 399h2v1h-2zM1122 400h2v1h-2zM1124 401h2v1h-2zM1126 402h2v1h-2zM1128 403h1v1h-1zM1129 404h2v1h-2zM1131 405h2v1h-2zM1133 406h1v1h-1zM1134 407h2v1h-2zM1136 408h2v1h-2zM1138 409h2v1h-2zM1140 410h2v1h-2zM1142 411h2v1h-2zM1144 412h2v1h-2zM1146 413h2v1h-2zM1148 414h2v1h-2zM1150 415h2v1h-2zM1152 416h2v1h-2zM1154 417h2v1h-2zM1156 418h2v1h-2zM1158 419h2v1h-2zM1160 420h2v1h-2zM1162 421h2v1h-2zM1164 422h2v1h-2zM1166 423h2v1h-2zM1168 424h2v1h-2zM1170 425h3v1h-3zM1173 426h2v1h-2zM1175 427h3v1h-3zM1178 428h3v1h-3zM1181 429h2v1h-2zM1183 430h6v1h-6zM1189 431h6v1h-6zM1195 432h4v1h-4zM1199 433h3v1h-3zM1202 434h3v1h-3zM1205 435h2v1h-2zM1207 436h4v1h-4zM1211 437h4v1h-4zM1215 438h21v1h-21zM1236 439h4v1h-4z" fill="#0000cd"/>
<path d="M63 86h6v1h-6zM59 87h4v1h-4zM69 87h5v1h-5zM56 88h3v1h-3zM74 88h3v1h-3zM54 89h2v1h-2zM77 89h2v1h-2zM52 90h2v1h-2zM79 90h2v1h-2zM50 91h2v1h-2zM81 91h1v1h-1zM47 92h3v1h-3zM82 92h1v1h-1zM45 93h2v1h-2zM83 93h1v1h-1zM42 94h3v1h-3zM84 94h1v1h-1zM40 95h2v1h-2zM85 95h1v1h-1zM38 96h2v1h-2zM86 96h1v1h-1zM37 97h1v1h-1zM87 97h1v1h-1zM35 98h2v1h-2zM88 98h1v1h-1zM33 99h2v1h-2zM89 99h1v1h-1zM31 100h2v1h-2zM90 100h1v1h-1zM29 101h2v1h-2zM91 101h1v1h-1zM26 102h3v1h-3zM92 102h1v1h-1zM24 103h2v1h-2zM93 103h1v1h-1zM22 104h2v1h-2zM94 104h1v1h-1zM21 105h1v1h-1zM95 105h1v1h-1zM19 106h2v1h-2zM96 106h1v1h-1zM17 107h2v1h-2zM97 107h1v1h-1zM16 108h1v1h-1zM98 108h1v1h-1zM15 109h1v1h-1zM99 109h1v1h-1zM14 110h1v1h-1zM100 110h1v2h-1zM13 111h1v1h-1zM11 112h2v1h-2zM101 112h1v1h-1zM10 113h1v1h-1zM102 113h1v1h-1zM9 114h1v1h-1zM103 114h1v1h-1zM8 115h1v1h-1zM104 115h1v1h-1zM7 116h1v1h-1zM105 116h1v1h-1zM6 117h1v1h-1zM106 117h1v1h-1zM5 118h1v1h-1zM107 118h1v1h-1zM3 119h2v1h-2zM108 119h1v2h-1zM2 120h1v1h-1zM1 121h1v1h-1zM109 121h1v1h-1zM0 122h1v1h-1zM110 122h1v1h-1zM111 123h1v1h-1zM112 124h1v1h-1zM113 125h1v1h-1zM114 126h1v1h-1zM115 127h1v1h-1zM116 128h1v1h-1zM117 129h1v1h-1zM118 130h1v1h-1zM119 131h1v1h-1zM120 132h1v1h-1zM121 133h2v1h-2zM123 134h2v1h-2zM125 135h1v1h-1zM126 136h2v1h-2zM128 137h2v1h-2zM130 138h2v1h-2zM132 139h2v1h-2zM134 140h2v1h-2zM136 141h2v1h-2zM138 142h2v1h-2zM140 143h2v1h-2zM247 143h4v1h-4zM142 144h2v1h-2zM245 144h2v1h-2zM251 144h4v1h-4zM144 145h1v1h-1zM242 145h3v1h-3zM255 145h4v1h-4zM145 146h2v1h-2zM240 146h2v1h-2zM259 146h4v1h-4zM147 147h1v1h-1zM238 147h2v1h-2zM263 147h3v1h-3zM148 148h1v1h-1zM236 148h2v1h-2zM266 148h3v1h-3zM149 149h2v1h-2zM234 149h2v1h-2zM269 149h2v1h-2zM151 150h1v1h-1zM232 150h2v1h-2zM271 150h3v1h-3zM152 151h1v1h-1zM231 151h1v1h-1zM274 151h3v1h-3zM153 152h2v1h-2zM229 152h2v1h-2zM277 152h2v1h-2zM155 153h1v1h-1zM228 153h1v1h-1zM279 153h3v1h-3zM156 154h1v1h-1zM227 154h1v1h-1zM282 154h3v1h-3zM157 155h2v1h-2zM225 155h2v1h-2zM285 155h2v1h-2zM159 156h1v1h-1zM224 156h1v1h-1zM287 156h2v1h-2zM160 157h2v1h-2zM223 157h1v1h-1zM289 157h2v1h-2zM162 158h2v1h-2zM222 158h1v1h-1zM291 158h1v1h-1zM164 159h2v1h-2zM221 159h1v1h-1zM292 159h1v1h-1zM166 160h2v1h-2zM219 160h2v1h-2zM293 160h2v1h-2zM168 161h2v1h-2zM218 161h1v1h-1zM295 161h1v1h-1zM170 162h2v1h-2zM217 162h1v1h-1zM296 162h1v1h-1zM172 163h2v1h-2zM216 163h1v1h-1zM297 163h2v1h-2zM174 164h2v1h-2zM215 164h1v1h-1zM299 164h2v1h-2zM176 165h2v1h-2zM213 165h2v1h-2zM301 165h1v1h-1zM178 166h2v1h-2zM212 166h1v1h-1zM302 166h2v1h-2zM180 167h2v1h-2zM211 167h1v1h-1zM304 167h1v1h-1zM182 168h2v1h-2zM209 168h2v1h-2zM305 168h2v1h-2zM184 169h2v1h-2zM207 169h2v1h-2zM307 169h2v1h-2zM186 170h3v1h-3zM203 170h4v1h-4zM309 170h1v1h-1zM189 171h2v1h-2zM197 171h6v1h-6zM310 171h2v1h-2zM191 172h6v1h-6zM312 172h5v1h-5zM317 173h4v1h-4zM321 174h2v1h-2zM323 175h1v1h-1zM324 176h1v1h-1zM325 177h2v1h-2zM327 178h1v1h-1zM328 179h1v1h-1zM329 180h1v1h-1zM330 181h1v1h-1zM331 182h1v1h-1zM332 183h1v1h-1zM333 184h1v1h-1zM334 185h1v1h-1zM335 186h1v1h-1zM336 187h1v1h-1zM337 188h1v1h-1zM338 189h1v1h-1zM339 190h2v1h-2zM341 191h1v1h-1zM342 192h1v1h-1zM343 193h1v1h-1zM344 194h1v1h-1zM345 195h1v1h-1zM346 196h1v1h-1zM347 197h2v1h-2zM349 198h1v1h-1zM350 199h1v1h-1zM351 200h1v1h-1zM352 201h1v1h-1zM353 202h1v1h-1zM354 203h1v1h-1zM355 204h1v1h-1zM356 205h1v1h-1zM413 205h6v1h-6zM357 206h1v1h-1zM405 206h8v1h-8zM419 206h4v1h-4zM358 207h1v1h-1zM391 207h14v1h-14zM423 207h2v1h-2zM359 208h1v1h-1zM387 208h4v1h-4zM425 208h2v1h-2zM360 209h10v1h-10zM383 209h4v1h-4zM427 209h2v1h-2zM370 210h3v1h-3zM381 210h2v1h-2zM429 210h1v1h-1zM373 211h2v1h-2zM378 211h3v1h-3zM430 211h2v1h-2zM375 212h3v1h-3zM432 212h1v1h-1zM433 213h1v1h-1zM434 214h1v1h-1zM435 215h2v1h-2zM437 216h1v1h-1zM438 217h1v1h-1zM439 218h1v1h-1zM440 219h1v1h-1zM441 220h2v1h-2zM443 221h1v1h-1zM444 222h1v1h-1zM445 223h2v1h-2zM447 224h1v1h-1zM448 225h2v1h-2zM450 226h2v1h-2zM452 227h2v1h-2zM454 228h2v1h-2zM456 229h1v1h-1zM457 230h1v1h-1zM458 231h1v1h-1zM459 232h2v1h-2zM461 233h1v1h-1zM462 234h1v1h-1zM463 235h1v1h-1zM464 236h1v1h-1zM465 237h1v1h-1zM466 238h1v2h-1zM467 240h1v1h-1zM468 241h1v1h-1zM469 242h1v1h-1zM470 243h1v2h-1zM471 245h1v1h-1zM472 246h1v1h-1zM473 247h1v1h-1zM474 248h1v2h-1zM475 250h1v1h-1zM476 251h1v1h-1zM477 252h1v1h-1zM478 253h1v2h-1zM479 255h1v1h-1zM480 256h1v1h-1zM481 257h1v1h-1zM482 258h1v2h-1zM483 260h1v1h-1zM484 261h1v1h-1zM485 262h1v1h-1zM486 263h1v2h-1zM487 265h1v1h-1zM488 266h1v1h-1zM489 267h1v1h-1zM490 268h1v1h-1zM491 269h1v1h-1zM492 270h1v2h-1zM493 272h1v1h-1zM494 273h1v1h-1zM495 274h1v1h-1zM496 275h1v1h-1zM497 276h1v2h-1zM498 278h1v1h-1zM499 279h1v1h-1zM500 280h1v2h-1zM501 282h1v1h-1zM502 283h1v1h-1zM503 284h1v2h-1zM504 286h1v1h-1zM505 287h1v1h-1zM506 288h1v1h-1zM507 289h1v1h-1zM508 290h1v2h-1zM509 292h1v1h-1zM510 293h1v1h-1zM511 294h1v1h-1zM512 295h1v1h-1zM513 296h1v1h-1zM514 297h1v1h-1zM515 298h1v1h-1zM516 299h1v2h-1zM517 301h1v1h-1zM518 302h1v1h-1zM519 303h1v1h-1zM520 304h1v1h-1zM521 305h1v1h-1zM522 306h1v1h-1zM523 307h1v1h-1zM524 308h1v1h-1zM525 309h1v1h-1zM526 310h1v1h-1zM527 311h1v1h-1zM528 312h1v1h-1zM529 313h1v1h-1zM530 314h1v1h-1zM531 315h1v1h-1zM532 316h1v1h-1zM533 317h1v1h-1zM534 318h1v1h-1zM535 319h1v1h-1zM536 320h1v1h-1zM537 321h2v1h-2zM539 322h1v1h-1zM540 323h1v1h-1zM541 324h2v1h-2zM543 325h1v1h-1zM544 326h1v1h-1zM545 327h1v1h-1zM546 328h1v1h-1zM547 329h2v1h-2zM549 330h1v1h-1zM629 330h8v1h-8zM550 331h1v1h-1zM624 331h5v1h-5zM637 331h8v1h-8zM551 332h1v1h-1zM622 332h2v1h-2zM645 332h14v1h-14zM552 333h1v1h-1zM621 333h1v1h-1zM659 333h4v1h-4zM669 333h5v1h-5zM553 334h1v1h-1zM619 334h2v1h-2zM663 334h6v1h-6zM674 334h3v1h-3zM554 335h1v1h-1zM617 335h2v1h-2zM677 335h2v1h-2zM555 336h2v1h-2zM615 336h2v1h-2zM679 336h4v1h-4zM557 337h1v1h-1zM611 337h4v1h-4zM683 337h4v1h-4zM558 338h1v1h-1zM605 338h6v1h-6zM687 338h2v1h-2zM559 339h1v1h-1zM599 339h6v1h-6zM689 339h2v1h-2zM560 340h2v1h-2zM595 340h4v1h-4zM691 340h2v1h-2zM562 341h2v1h-2zM592 341h3v1h-3zM693 341h1v1h-1zM564 342h2v1h-2zM590 342h2v1h-2zM694 342h2v1h-2zM566 343h2v1h-2zM588 343h2v1h-2zM696 343h1v1h-1zM568 344h2v1h-2zM586 344h2v1h-2zM697 344h1v1h-1zM901 344h16v1h-16zM570 345h3v1h-3zM583 345h3v1h-3zM698 345h1v1h-1zM896 345h5v1h-5zM917 345h6v1h-6zM573 346h2v1h-2zM579 346h4v1h-4zM699 346h1v1h-1zM894 346h2v1h-2zM923 346h4v1h-4zM575 347h4v1h-4zM700 347h1v1h-1zM893 347h1v1h-1zM927 347h4v1h-4zM701 348h1v1h-1zM891 348h2v1h-2zM931 348h4v1h-4zM702 349h1v1h-1zM889 349h2v1h-2zM935 349h3v1h-3zM703 350h1v1h-1zM888 350h1v1h-1zM938 350h3v1h-3zM704 351h5v1h-5zM886 351h2v1h-2zM941 351h2v1h-2zM709 352h5v1h-5zM885 352h1v1h-1zM943 352h3v1h-3zM714 353h3v1h-3zM883 353h2v1h-2zM946 353h2v1h-2zM717 354h2v1h-2zM881 354h2v1h-2zM948 354h2v1h-2zM719 355h2v1h-2zM879 355h2v1h-2zM950 355h2v1h-2zM721 356h2v1h-2zM877 356h2v1h-2zM952 356h2v1h-2zM723 357h2v1h-2zM874 357h3v1h-3zM954 357h2v1h-2zM725 358h1v1h-1zM869 358h5v1h-5zM956 358h2v1h-2zM726 359h2v1h-2zM864 359h5v1h-5zM958 359h2v1h-2zM728 360h1v1h-1zM862 360h2v1h-2zM960 360h2v1h-2zM729 361h2v1h-2zM860 361h2v1h-2zM962 361h2v1h-2zM731 362h1v1h-1zM858 362h2v1h-2zM964 362h2v1h-2zM732 363h1v1h-1zM855 363h3v1h-3zM966 363h2v1h-2zM733 364h2v1h-2zM851 364h4v1h-4zM968 364h2v1h-2zM735 365h1v1h-1zM848 365h3v1h-3zM970 365h2v1h-2zM736 366h11v1h-11zM846 366h2v1h-2zM972 366h2v1h-2zM747 367h4v1h-4zM765 367h5v1h-5zM845 367h1v1h-1zM974 367h2v1h-2zM751 368h14v1h-14zM770 368h3v1h-3zM843 368h2v1h-2zM976 368h1v1h-1zM773 369h2v1h-2zM841 369h2v1h-2zM977 369h2v1h-2zM775 370h2v1h-2zM839 370h2v1h-2zM979 370h2v1h-2zM777 371h2v1h-2zM835 371h4v1h-4zM981 371h1v1h-1zM779 372h2v1h-2zM805 372h16v1h-16zM829 372h6v1h-6zM982 372h2v1h-2zM781 373h1v1h-1zM797 373h8v1h-8zM821 373h8v1h-8zM984 373h1v1h-1zM782 374h2v1h-2zM789 374h8v1h-8zM985 374h1v1h-1zM784 375h5v1h-5zM986 375h1v1h-1zM987 376h1v1h-1zM988 377h1v1h-1zM989 378h1v1h-1zM990 379h1v1h-1zM991 380h1v1h-1zM992 381h1v1h-1zM993 382h2v1h-2zM995 383h1v1h-1zM996 384h1v1h-1zM997 385h2v1h-2zM999 386h1v1h-1zM1000 387h1v1h-1zM1001 388h2v1h-2zM1003 389h1v1h-1zM1004 390h1v1h-1zM1005 391h2v1h-2zM1007 392h1v1h-1zM1008 393h1v1h-1zM1009 394h2v1h-2zM1011 395h1v1h-1zM1012 396h1v1h-1zM1013 397h2v1h-2zM1015 398h1v1h-1zM1016 399h1v1h-1zM1017 400h2v1h-2zM1019 401h1v1h-1zM1020 402h1v1h-1zM1021 403h2v1h-2zM1023 404h1v1h-1zM1024 405h18v1h-18zM1042 406h3v1h-3zM1045 407h2v1h-2zM1047 408h4v1h-4zM1051 409h4v1h-4zM1055 410h6v1h-6zM1061 411h6v1h-6zM1067 412h4v1h-4zM1103 412h14v1h-14zM1071 413h6v1h-6zM1099 413h4v1h-4zM1117 413h6v1h-6zM1077 414h6v1h-6zM1095 414h4v1h-4zM1123 414h4v1h-4zM1083 415h4v1h-4zM1091 415h4v1h-4zM1127 415h4v1h-4zM1087 416h4v1h-4zM1131 416h4v1h-4zM1135 417h2v1h-2zM1137 418h2v1h-2zM1139 419h1v1h-1zM1140 420h1v1h-1zM1141 421h2v1h-2zM1143 422h1v1h-1zM1144 423h1v1h-1zM1145 424h1v1h-1zM1146 425h1v1h-1zM1147 426h1v1h-1zM1148 427h1v1h-1zM1149 428h1v1h-1zM1150 429h1v1h-1zM1151 430h1v1h-1zM1152 431h1v1h-1zM1153 432h1v1h-1zM1154 433h1v1h-1zM1155 434h2v1h-2zM1157 435h1v1h-1zM1158 436h1v1h-1zM1159 437h1v1h-1zM1160 438h1v1h-1zM1161 439h2v1h-2zM1163 440h2v1h-2zM1165 441h1v1h-1zM1166 442h2v1h-2zM1168 443h2v1h-2zM1170 444h3v1h-3zM1173 445h2v1h-2zM1175 446h2v1h-2zM1177 447h2v1h-2zM1179 448h2v1h-2zM1181 449h1v1h-1zM1182 450h2v1h-2zM1184 451h2v1h-2zM1186 452h2v1h-2zM1188 453h2v1h-2zM1190 454h2v1h-2zM1192 455h2v1h-2zM1194 456h2v1h-2zM1196 457h2v1h-2zM1198 458h2v1h-2zM1200 459h1v1h-1zM1201 460h2v1h-2zM1203 461h2v1h-2zM1205 462h1v1h-1zM1206 463h2v1h-2zM1238 463h2v1h-2zM1208 464h5v1h-5zM1236 464h2v1h-2zM1213 465h6v1h-6zM1234 465h2v1h-2zM1219 466h4v1h-4zM1229 466h5v1h-5zM1223 467h6v1h-6z" fill="#ff0000"/>
<path d="M15 61h3v1h-3zM13 62h2v1h-2zM18 62h2v1h-2zM10 63h3v1h-3zM20 63h2v1h-2zM8 64h2v1h-2zM22 64h2v1h-2zM7 65h1v1h-1zM24 65h1v1h-1zM5 66h2v1h-2zM25 66h1v1h-1zM4 67h1v1h-1zM26 67h1v2h-1zM3 68h1v1h-1zM1 69h2v1h-2zM27 69h1v1h-1zM0 70h1v1h-1zM28 70h1v1h-1zM29 71h1v1h-1zM30 72h1v2h-1zM31 74h1v1h-1zM32 75h1v1h-1zM33 76h1v1h-1zM34 77h1v1h-1zM35 78h2v1h-2zM37 79h1v1h-1zM38 80h1v1h-1zM39 81h1v1h-1zM40 82h1v1h-1zM41 83h1v1h-1zM42 84h1v1h-1zM43 85h1v1h-1zM44 86h1v1h-1zM45 87h1v1h-1zM46 88h1v1h-1zM47 89h1v1h-1zM48 90h1v1h-1zM49 91h1v2h-1zM50 93h1v1h-1zM51 94h1v2h-1zM248 94h1v1h-1zM247 95h2v1h-2zM52 96h1v1h-1zM246 96h1v1h-1zM249 96h1v2h-1zM53 97h1v2h-1zM245 97h1v1h-1zM244 98h1v1h-1zM250 98h1v3h-1zM54 99h1v1h-1zM243 99h1v1h-1zM55 100h1v2h-1zM242 100h1v1h-1zM241 101h1v1h-1zM251 101h1v2h-1zM56 102h1v1h-1zM240 102h1v1h-1zM57 103h2v1h-2zM239 103h1v1h-1zM252 103h1v3h-1zM59 104h2v1h-2zM238 104h1v2h-1zM61 105h1v1h-1zM62 106h2v1h-2zM237 106h1v1h-1zM253 106h1v2h-1zM64 107h5v1h-5zM236 107h1v1h-1zM69 108h4v1h-4zM235 108h1v1h-1zM254 108h1v3h-1zM73 109h1v1h-1zM234 109h1v2h-1zM74 110h1v1h-1zM75 111h1v1h-1zM233 111h1v1h-1zM255 111h1v2h-1zM76 112h1v1h-1zM232 112h1v2h-1zM77 113h1v1h-1zM256 113h1v3h-1zM78 114h1v1h-1zM231 114h1v2h-1zM79 115h1v1h-1zM80 116h1v2h-1zM230 116h1v2h-1zM257 116h1v2h-1zM81 118h1v2h-1zM229 118h1v2h-1zM258 118h1v2h-1zM82 120h1v2h-1zM228 120h1v3h-1zM259 120h1v2h-1zM83 122h1v2h-1zM260 122h1v2h-1zM227 123h1v2h-1zM84 124h1v2h-1zM261 124h1v2h-1zM226 125h1v2h-1zM85 126h1v2h-1zM262 126h1v2h-1zM225 127h1v2h-1zM86 128h1v2h-1zM263 128h1v2h-1zM224 129h1v3h-1zM87 130h1v2h-1zM264 130h1v3h-1zM88 132h1v1h-1zM223 132h1v3h-1zM89 133h1v2h-1zM265 133h1v4h-1zM90 135h1v2h-1zM222 135h1v2h-1zM91 137h1v2h-1zM221 137h1v3h-1zM266 137h1v4h-1zM92 139h1v1h-1zM93 140h1v2h-1zM220 140h1v3h-1zM267 141h1v4h-1zM94 142h1v2h-1zM219 143h1v3h-1zM95 144h1v2h-1zM268 145h1v4h-1zM96 146h1v1h-1zM218 146h1v2h-1zM97 147h1v2h-1zM217 148h1v3h-1zM98 149h1v2h-1zM269 149h1v4h-1zM99 151h1v2h-1zM216 151h1v3h-1zM100 153h1v1h-1zM270 153h1v4h-1zM101 154h1v2h-1zM215 154h1v2h-1zM102 156h1v2h-1zM214 156h1v2h-1zM151 157h4v1h-4zM271 157h1v4h-1zM103 158h1v2h-1zM147 158h4v1h-4zM155 158h4v1h-4zM213 158h1v2h-1zM144 159h3v1h-3zM159 159h2v1h-2zM104 160h1v1h-1zM143 160h1v1h-1zM161 160h1v1h-1zM212 160h1v2h-1zM105 161h1v2h-1zM141 161h2v1h-2zM162 161h1v1h-1zM272 161h1v3h-1zM140 162h1v1h-1zM163 162h1v1h-1zM211 162h1v2h-1zM106 163h1v2h-1zM139 163h1v1h-1zM164 163h1v2h-1zM137 164h2v1h-2zM210 164h1v2h-1zM273 164h1v3h-1zM107 165h1v2h-1zM136 165h1v1h-1zM165 165h1v1h-1zM135 166h1v1h-1zM166 166h1v1h-1zM209 166h1v2h-1zM108 167h1v2h-1zM134 167h1v1h-1zM167 167h1v1h-1zM274 167h1v4h-1zM133 168h1v1h-1zM168 168h1v1h-1zM208 168h1v2h-1zM109 169h1v2h-1zM131 169h2v1h-2zM169 169h1v1h-1zM130 170h1v1h-1zM170 170h1v1h-1zM206 170h2v1h-2zM110 171h1v2h-1zM129 171h1v1h-1zM171 171h2v1h-2zM204 171h2v1h-2zM275 171h1v3h-1zM128 172h1v1h-1zM173 172h1v1h-1zM202 172h2v1h-2zM111 173h1v2h-1zM127 173h1v1h-1zM174 173h1v1h-1zM200 173h2v1h-2zM126 174h1v1h-1zM175 174h1v1h-1zM199 174h1v1h-1zM276 174h1v3h-1zM112 175h1v1h-1zM125 175h1v1h-1zM176 175h2v1h-2zM198 175h1v1h-1zM113 176h2v1h-2zM124 176h1v2h-1zM178 176h2v1h-2zM197 176h1v1h-1zM115 177h1v1h-1zM180 177h2v1h-2zM195 177h2v1h-2zM277 177h1v3h-1zM116 178h1v1h-1zM123 178h1v1h-1zM182 178h2v1h-2zM194 178h1v1h-1zM117 179h2v1h-2zM122 179h1v1h-1zM184 179h5v1h-5zM193 179h1v1h-1zM119 180h1v1h-1zM121 180h1v1h-1zM189 180h4v1h-4zM278 180h1v4h-1zM120 181h1v1h-1zM279 184h1v3h-1zM280 187h1v3h-1zM351 189h2v1h-2zM281 190h1v3h-1zM347 190h4v1h-4zM353 190h2v1h-2zM344 191h3v1h-3zM355 191h2v1h-2zM342 192h2v1h-2zM357 192h1v1h-1zM282 193h1v2h-1zM341 193h1v1h-1zM358 193h2v1h-2zM339 194h2v1h-2zM360 194h1v1h-1zM283 195h1v3h-1zM337 195h2v1h-2zM361 195h1v1h-1zM336 196h1v1h-1zM362 196h1v1h-1zM335 197h1v2h-1zM363 197h1v1h-1zM284 198h1v3h-1zM364 198h1v1h-1zM334 199h1v2h-1zM365 199h1v1h-1zM366 200h1v1h-1zM285 201h1v3h-1zM333 201h1v2h-1zM367 201h1v1h-1zM368 202h1v1h-1zM332 203h1v1h-1zM369 203h2v1h-2zM286 204h1v2h-1zM331 204h1v2h-1zM371 204h2v1h-2zM373 205h1v1h-1zM383 205h11v1h-11zM287 206h1v3h-1zM330 206h1v2h-1zM374 206h2v1h-2zM379 206h4v1h-4zM394 206h3v1h-3zM376 207h3v1h-3zM397 207h2v1h-2zM329 208h1v2h-1zM399 208h2v1h-2zM288 209h1v2h-1zM401 209h2v1h-2zM328 210h1v1h-1zM403 210h1v1h-1zM289 211h1v2h-1zM327 211h1v2h-1zM404 211h1v1h-1zM405 212h2v1h-2zM290 213h1v2h-1zM326 213h1v2h-1zM407 213h1v1h-1zM408 214h1v1h-1zM291 215h1v2h-1zM325 215h1v2h-1zM409 215h2v1h-2zM411 216h1v1h-1zM292 217h1v1h-1zM324 217h1v2h-1zM412 217h1v1h-1zM293 218h1v2h-1zM413 218h2v1h-2zM323 219h1v2h-1zM415 219h1v1h-1zM294 220h1v2h-1zM416 220h1v1h-1zM322 221h1v2h-1zM417 221h1v1h-1zM295 222h1v2h-1zM418 222h1v2h-1zM321 223h1v2h-1zM296 224h1v1h-1zM419 224h1v1h-1zM297 225h1v2h-1zM320 225h1v2h-1zM420 225h1v1h-1zM421 226h1v1h-1zM298 227h1v1h-1zM319 227h1v1h-1zM422 227h1v2h-1zM299 228h1v2h-1zM318 228h1v1h-1zM317 229h1v1h-1zM423 229h1v1h-1zM300 230h1v1h-1zM315 230h2v1h-2zM424 230h1v1h-1zM301 231h1v2h-1zM314 231h1v1h-1zM425 231h1v1h-1zM313 232h1v1h-1zM426 232h1v2h-1zM302 233h1v1h-1zM311 233h2v1h-2zM303 234h1v2h-1zM309 234h2v1h-2zM427 234h1v1h-1zM306 235h3v1h-3zM428 235h1v1h-1zM304 236h2v1h-2zM429 236h1v1h-1zM430 237h1v2h-1zM431 239h1v1h-1zM432 240h1v1h-1zM433 241h1v1h-1zM434 242h1v1h-1zM435 243h1v1h-1zM436 244h1v1h-1zM437 245h1v1h-1zM438 246h1v1h-1zM439 247h1v1h-1zM440 248h2v1h-2zM442 249h2v1h-2zM444 250h2v1h-2zM446 251h2v1h-2zM448 252h1v1h-1zM449 253h1v1h-1zM450 254h1v1h-1zM451 255h1v1h-1zM452 256h1v1h-1zM453 257h1v1h-1zM454 258h1v1h-1zM455 259h1v1h-1zM456 260h1v1h-1zM457 261h1v1h-1zM458 262h1v1h-1zM459 263h1v1h-1zM460 264h1v1h-1zM461 265h1v1h-1zM462 266h1v1h-1zM463 267h1v1h-1zM464 268h1v2h-1zM465 270h1v2h-1zM466 272h1v2h-1zM467 274h1v2h-1zM468 276h1v3h-1zM469 279h1v2h-1zM470 281h1v2h-1zM471 283h1v2h-1zM472 285h1v3h-1zM473 288h1v2h-1zM474 290h1v2h-1zM475 292h1v2h-1zM476 294h1v2h-1zM477 296h1v2h-1zM478 298h1v2h-1zM479 300h1v2h-1zM480 302h1v2h-1zM481 304h1v2h-1zM615 304h10v1h-10zM613 305h2v1h-2zM625 305h1v1h-1zM482 306h1v2h-1zM610 306h3v1h-3zM626 306h1v1h-1zM608 307h2v1h-2zM627 307h1v1h-1zM483 308h1v2h-1zM607 308h1v1h-1zM628 308h1v1h-1zM606 309h1v1h-1zM629 309h1v1h-1zM484 310h1v2h-1zM605 310h1v1h-1zM630 310h1v1h-1zM603 311h2v1h-2zM631 311h1v1h-1zM485 312h1v2h-1zM602 312h1v1h-1zM632 312h1v1h-1zM601 313h1v1h-1zM633 313h1v2h-1zM486 314h1v2h-1zM600 314h1v1h-1zM599 315h1v2h-1zM634 315h1v1h-1zM487 316h1v2h-1zM635 316h1v1h-1zM598 317h1v2h-1zM636 317h1v2h-1zM488 318h1v1h-1zM489 319h1v2h-1zM597 319h1v1h-1zM637 319h1v1h-1zM596 320h1v2h-1zM638 320h1v1h-1zM490 321h1v1h-1zM639 321h1v2h-1zM491 322h1v2h-1zM595 322h1v1h-1zM594 323h1v2h-1zM640 323h1v1h-1zM492 324h1v1h-1zM641 324h1v1h-1zM493 325h1v2h-1zM593 325h1v2h-1zM642 325h1v2h-1zM880 326h2v1h-2zM494 327h1v1h-1zM592 327h1v1h-1zM643 327h1v1h-1zM879 327h1v1h-1zM882 327h3v1h-3zM495 328h1v2h-1zM591 328h1v2h-1zM644 328h1v1h-1zM877 328h2v1h-2zM885 328h2v1h-2zM645 329h1v1h-1zM876 329h1v1h-1zM887 329h2v1h-2zM496 330h1v1h-1zM590 330h1v2h-1zM646 330h1v2h-1zM875 330h1v1h-1zM889 330h1v1h-1zM497 331h2v1h-2zM864 331h5v1h-5zM873 331h2v1h-2zM890 331h1v1h-1zM499 332h1v1h-1zM589 332h1v2h-1zM647 332h1v1h-1zM863 332h1v1h-1zM869 332h4v1h-4zM891 332h2v1h-2zM500 333h1v1h-1zM648 333h1v1h-1zM861 333h2v1h-2zM893 333h1v1h-1zM501 334h2v1h-2zM588 334h1v2h-1zM649 334h1v2h-1zM860 334h1v1h-1zM894 334h1v1h-1zM503 335h1v1h-1zM859 335h1v1h-1zM895 335h1v1h-1zM504 336h1v1h-1zM587 336h1v2h-1zM650 336h1v2h-1zM857 336h2v1h-2zM896 336h1v1h-1zM505 337h1v1h-1zM856 337h1v1h-1zM897 337h1v1h-1zM506 338h1v1h-1zM586 338h1v2h-1zM651 338h1v1h-1zM855 338h1v2h-1zM898 338h1v1h-1zM507 339h1v1h-1zM652 339h1v2h-1zM899 339h2v1h-2zM508 340h1v1h-1zM585 340h1v2h-1zM854 340h1v1h-1zM901 340h1v1h-1zM509 341h1v1h-1zM653 341h1v1h-1zM853 341h1v1h-1zM902 341h1v1h-1zM510 342h1v1h-1zM584 342h1v2h-1zM654 342h1v2h-1zM852 342h1v2h-1zM903 342h1v1h-1zM511 343h1v1h-1zM904 343h1v1h-1zM512 344h5v1h-5zM583 344h1v2h-1zM655 344h1v2h-1zM851 344h1v1h-1zM905 344h2v1h-2zM517 345h6v1h-6zM850 345h1v1h-1zM907 345h1v1h-1zM523 346h4v1h-4zM582 346h1v1h-1zM656 346h1v1h-1zM849 346h1v2h-1zM908 346h1v1h-1zM527 347h3v1h-3zM581 347h1v2h-1zM657 347h1v2h-1zM909 347h2v1h-2zM530 348h3v1h-3zM848 348h1v1h-1zM911 348h1v1h-1zM533 349h2v1h-2zM580 349h1v1h-1zM658 349h1v1h-1zM846 349h2v1h-2zM912 349h1v1h-1zM535 350h2v1h-2zM579 350h1v2h-1zM659 350h1v1h-1zM844 350h2v1h-2zM913 350h1v2h-1zM537 351h2v1h-2zM660 351h1v2h-1zM842 351h2v1h-2zM539 352h1v1h-1zM552 352h1v1h-1zM578 352h1v1h-1zM840 352h2v1h-2zM914 352h1v2h-1zM540 353h1v1h-1zM550 353h2v1h-2zM553 353h2v1h-2zM577 353h1v2h-1zM661 353h1v1h-1zM839 353h1v1h-1zM541 354h2v1h-2zM548 354h2v1h-2zM555 354h2v1h-2zM662 354h1v1h-1zM837 354h2v1h-2zM915 354h1v2h-1zM543 355h1v1h-1zM546 355h2v1h-2zM557 355h1v1h-1zM575 355h2v1h-2zM663 355h1v2h-1zM836 355h1v1h-1zM544 356h2v1h-2zM558 356h2v1h-2zM571 356h4v1h-4zM835 356h1v1h-1zM916 356h1v1h-1zM560 357h11v1h-11zM664 357h1v1h-1zM833 357h2v1h-2zM917 357h1v2h-1zM665 358h2v1h-2zM832 358h1v1h-1zM667 359h1v1h-1zM831 359h1v1h-1zM918 359h1v2h-1zM668 360h1v1h-1zM830 360h1v1h-1zM669 361h2v1h-2zM829 361h1v1h-1zM919 361h1v2h-1zM671 362h1v1h-1zM828 362h1v1h-1zM672 363h1v1h-1zM743 363h2v1h-2zM827 363h1v1h-1zM920 363h1v1h-1zM673 364h2v1h-2zM720 364h11v1h-11zM741 364h2v1h-2zM745 364h2v1h-2zM826 364h1v1h-1zM921 364h1v1h-1zM675 365h1v1h-1zM719 365h1v1h-1zM731 365h4v1h-4zM738 365h3v1h-3zM747 365h1v1h-1zM825 365h1v1h-1zM922 365h1v1h-1zM676 366h1v1h-1zM717 366h2v1h-2zM735 366h3v1h-3zM748 366h1v1h-1zM824 366h1v1h-1zM923 366h1v1h-1zM677 367h2v1h-2zM716 367h1v1h-1zM749 367h2v1h-2zM823 367h1v2h-1zM924 367h1v1h-1zM679 368h1v1h-1zM715 368h1v1h-1zM751 368h1v1h-1zM925 368h1v1h-1zM680 369h3v1h-3zM713 369h2v1h-2zM752 369h19v1h-19zM822 369h1v2h-1zM926 369h1v1h-1zM683 370h4v1h-4zM712 370h1v1h-1zM771 370h4v1h-4zM927 370h1v1h-1zM687 371h6v1h-6zM711 371h1v1h-1zM775 371h2v1h-2zM821 371h1v2h-1zM928 371h1v1h-1zM693 372h5v1h-5zM709 372h2v1h-2zM777 372h1v2h-1zM929 372h2v1h-2zM698 373h2v1h-2zM708 373h1v1h-1zM820 373h1v2h-1zM931 373h1v1h-1zM700 374h2v1h-2zM707 374h1v1h-1zM778 374h1v2h-1zM932 374h1v1h-1zM702 375h2v1h-2zM705 375h2v1h-2zM819 375h1v2h-1zM933 375h2v1h-2zM704 376h1v1h-1zM779 376h1v1h-1zM935 376h1v1h-1zM780 377h1v2h-1zM818 377h1v2h-1zM936 377h2v1h-2zM938 378h2v1h-2zM781 379h1v1h-1zM817 379h1v2h-1zM940 379h2v1h-2zM782 380h1v2h-1zM942 380h2v1h-2zM816 381h1v1h-1zM944 381h1v1h-1zM783 382h1v2h-1zM815 382h1v1h-1zM945 382h1v1h-1zM813 383h2v1h-2zM946 383h1v1h-1zM784 384h5v1h-5zM812 384h1v1h-1zM947 384h2v1h-2zM973 384h4v1h-4zM789 385h5v1h-5zM811 385h1v1h-1zM949 385h1v1h-1zM968 385h5v1h-5zM977 385h1v1h-1zM794 386h3v1h-3zM809 386h2v1h-2zM950 386h1v1h-1zM966 386h2v1h-2zM978 386h1v1h-1zM797 387h2v1h-2zM805 387h4v1h-4zM951 387h1v1h-1zM964 387h2v1h-2zM979 387h1v1h-1zM799 388h6v1h-6zM952 388h5v1h-5zM962 388h2v1h-2zM980 388h1v1h-1zM957 389h5v1h-5zM981 389h1v1h-1zM982 390h1v1h-1zM983 391h1v1h-1zM984 392h5v1h-5zM989 393h4v1h-4zM993 394h1v1h-1zM994 395h1v1h-1zM995 396h2v1h-2zM997 397h1v1h-1zM998 398h1v1h-1zM999 399h1v1h-1zM1000 400h1v1h-1zM1111 400h2v1h-2zM1001 401h1v2h-1zM1107 401h4v1h-4zM1113 401h1v1h-1zM1103 402h4v1h-4zM1114 402h1v2h-1zM1002 403h1v2h-1zM1101 403h2v1h-2zM1064 404h2v1h-2zM1098 404h3v1h-3zM1115 404h1v1h-1zM1003 405h1v1h-1zM1063 405h1v1h-1zM1066 405h3v1h-3zM1095 405h3v1h-3zM1116 405h1v1h-1zM1004 406h1v2h-1zM1062 406h1v1h-1zM1069 406h2v1h-2zM1093 406h2v1h-2zM1117 406h1v1h-1zM1061 407h1v1h-1zM1071 407h4v1h-4zM1090 407h3v1h-3zM1118 407h1v2h-1zM1005 408h1v1h-1zM1059 408h2v1h-2zM1075 408h4v1h-4zM1085 408h5v1h-5zM1006 409h1v2h-1zM1058 409h1v1h-1zM1079 409h6v1h-6zM1119 409h1v1h-1zM1057 410h1v1h-1zM1120 410h1v2h-1zM1007 411h1v2h-1zM1056 411h1v1h-1zM1055 412h1v1h-1zM1121 412h1v2h-1zM1008 413h1v1h-1zM1053 413h2v1h-2zM1009 414h1v2h-1zM1052 414h1v1h-1zM1122 414h1v2h-1zM1051 415h1v1h-1zM1010 416h1v2h-1zM1049 416h2v1h-2zM1123 416h1v2h-1zM1048 417h1v1h-1zM1011 418h1v2h-1zM1047 418h1v1h-1zM1124 418h1v2h-1zM1045 419h2v1h-2zM1012 420h1v1h-1zM1044 420h1v1h-1zM1125 420h1v2h-1zM1013 421h1v2h-1zM1043 421h1v1h-1zM1041 422h2v1h-2zM1126 422h1v2h-1zM1014 423h1v2h-1zM1040 423h1v1h-1zM1039 424h1v1h-1zM1127 424h1v2h-1zM1015 425h1v2h-1zM1038 425h1v1h-1zM1037 426h1v1h-1zM1128 426h1v2h-1zM1016 427h1v1h-1zM1036 427h1v1h-1zM1017 428h1v1h-1zM1035 428h1v1h-1zM1129 428h1v2h-1zM1018 429h1v1h-1zM1034 429h1v1h-1zM1019 430h1v1h-1zM1033 430h1v1h-1zM1130 430h1v2h-1zM1020 431h1v1h-1zM1032 431h1v1h-1zM1021 432h1v1h-1zM1030 432h2v1h-2zM1131 432h1v2h-1zM1022 433h1v1h-1zM1028 433h2v1h-2zM1023 434h1v1h-1zM1026 434h2v1h-2zM1132 434h1v3h-1zM1239 434h1v1h-1zM1024 435h2v1h-2zM1237 435h2v1h-2zM1235 436h2v1h-2zM1133 437h1v2h-1zM1233 437h2v1h-2zM1232 438h1v1h-1zM1134 439h1v2h-1zM1231 439h1v1h-1zM1229 440h2v1h-2zM1135 441h1v2h-1zM1228 441h1v1h-1zM1227 442h1v1h-1zM1136 443h1v2h-1zM1225 443h2v1h-2zM1224 444h1v1h-1zM1137 445h1v2h-1zM1223 445h1v1h-1zM1222 446h1v1h-1zM1138 447h1v2h-1zM1221 447h1v1h-1zM1220 448h1v1h-1zM1139 449h1v2h-1zM1219 449h1v1h-1zM1218 450h1v1h-1zM1140 451h1v1h-1zM1217 451h1v1h-1zM1141 452h1v2h-1zM1216 452h1v1h-1zM1215 453h1v1h-1zM1142 454h1v2h-1zM1214 454h1v1h-1zM1213 455h1v1h-1zM1143 456h1v2h-1zM1212 456h1v2h-1zM1144 458h1v2h-1zM1211 458h1v1h-1zM1210 459h1v1h-1zM1145 460h1v2h-1zM1209 460h1v1h-1zM1208 461h1v1h-1zM1146 462h1v2h-1zM1207 462h1v1h-1zM1206 463h1v2h-1zM1147 464h1v2h-1zM1205 465h1v1h-1zM1148 466h1v3h-1zM1204 466h1v1h-1zM1203 467h1v1h-1zM1202 468h1v2h-1zM1149 469h1v2h-1zM1201 470h1v1h-1zM1150 471h1v2h-1zM1200 471h1v1h-1zM1199 472h1v1h-1zM1151 473h1v2h-1zM1198 473h1v1h-1zM1197 474h1v1h-1zM1152 475h1v2h-1zM1196 475h1v2h-1zM1153 477h1v1h-1zM1195 477h1v1h-1zM1154 478h1v1h-1zM1194 478h1v1h-1zM1155 479h1v1h-1zM1193 479h1v1h-1zM1156 480h1v2h-1zM1192 480h1v1h-1zM1191 481h1v1h-1zM1157 482h1v1h-1zM1189 482h2v1h-2zM1158 483h1v1h-1zM1188 483h1v1h-1zM1159 484h1v1h-1zM1187 484h1v1h-1zM1160 485h1v1h-1zM1185 485h2v1h-2zM1161 486h2v1h-2zM1176 486h9v1h-9zM1163 487h2v1h-2zM1174 487h2v1h-2zM1165 488h1v1h-1zM1172 488h2v1h-2zM1166 489h2v1h-2zM1170 489h2v1h-2zM1168 490h2v1h-2z" fill="#ffa500"/>
<rect x="0" y="137" width="1577" height="2" fill="#ff0000"/>
<rect x="0" y="135" width="5" height="6" fill="#ff0000"/>
<rect x="1" y="137" width="2" height="2" fill="#fff"/>
<rect x="1570" y="135" width="6" height="6" fill="#ff0000"/>
<rect x="1572" y="137" width="2" height="2" fill="#fff"/>
<rect x="0" y="222" width="1577" height="2" fill="#ff0000"/>
<rect x="0" y="220" width="5" height="6" fill="#ff0000"/>
<rect x="1" y="222" width="2" height="2" fill="#fff"/>
<rect x="1570" y="220" width="6" height="6" fill="#ff0000"/>
<rect x="1572" y="222" width="2" height="2" fill="#fff"/>
<rect x="0" y="305" width="1577" height="2" fill="#ff0000"/>
<rect x="0" y="303" width="5" height="6" fill="#ff0000"/>
<rect x="1" y="305" width="2" height="2" fill="#fff"/>
<rect x="1570" y="303" width="6" height="6" fill="#ff0000"/>
<rect x="1572" y="305" width="2" height="2" fill="#fff"/>
<rect x="0" y="403" width="1577" height="2" fill="#00ff00"/>
<rect x="0" y="401" width="5" height="6" fill="#00ff00"/>
<rect x="1" y="403" width="2" height="2" fill="#fff"/>
<rect x="1570" y="401" width="6" height="6" fill="#00ff00"/>
<rect x="1572" y="403" width="2" height="2" fill="#fff"/>
<rect x="0" y="471" width="1577" height="2" fill="#0000ff"/>
<rect x="0" y="469" width="5" height="6" fill="#0000ff"/>
<rect x="1" y="471" width="2" height="2" fill="#fff"/>
<rect x="1570" y="469" width="6" height="6" fill="#0000ff"/>
<rect x="1572" y="471" width="2" height="2" fill="#fff"/>
<path d="M1 581h3v1h-3zM7 581h3v1h-3zM13 581h3v1h-3zM19 581h3v1h-3zM25 581h3v1h-3zM31 581h3v1h-3zM37 581h3v1h-3zM43 581h3v1h-3zM49 581h3v1h-3zM55 581h3v1h-3zM61 581h3v1h-3zM67 581h3v1h-3zM73 581h3v1h-3zM79 581h3v1h-3zM85 581h3v1h-3zM91 581h3v1h-3zM97 581h3v1h-3zM103 581h3v1h-3zM109 581h3v1h-3zM115 581h3v1h-3zM121 581h3v1h-3zM127 581h3v1h-3zM133 581h3v1h-3zM139 581h3v1h-3zM145 581h3v1h-3zM151 581h3v1h-3zM157 581h3v1h-3zM163 581h3v1h-3zM169 581h3v1h-3zM175 581h3v1h-3zM181 581h3v1h-3zM187 581h3v1h-3zM193 581h3v1h-3zM199 581h3v1h-3zM205 581h3v1h-3zM211 581h3v1h-3zM217 581h3v1h-3zM223 581h3v1h-3zM229 581h3v1h-3zM235 581h3v1h-3zM241 581h3v1h-3zM247 581h3v1h-3zM253 581h3v1h-3zM259 581h3v1h-3zM265 581h3v1h-3zM271 581h3v1h-3zM277 581h3v1h-3zM283 581h3v1h-3zM289 581h3v1h-3zM295 581h3v1h-3zM301 581h3v1h-3zM307 581h3v1h-3zM313 581h3v1h-3zM319 581h3v1h-3zM325 581h3v1h-3zM331 581h3v1h-3zM337 581h3v1h-3zM343 581h3v1h-3zM349 581h3v1h-3zM355 581h3v1h-3zM361 581h3v1h-3zM367 581h3v1h-3zM373 581h3v1h-3zM379 581h3v1h-3zM385 581h3v1h-3zM391 581h3v1h-3zM397 581h3v1h-3zM403 581h3v1h-3zM409 581h3v1h-3zM415 581h3v1h-3zM421 581h3v1h-3zM427 581h3v1h-3zM433 581h3v1h-3zM439 581h3v1h-3zM445 581h3v1h-3zM451 581h3v1h-3zM457 581h3v1h-3zM463 581h3v1h-3zM469 581h3v1h-3zM475 581h3v1h-3zM481 581h3v1h-3zM487 581h3v1h-3zM493 581h3v1h-3zM499 581h3v1h-3zM505 581h3v1h-3zM511 581h3v1h-3zM517 581h3v1h-3zM523 581h3v1h-3zM529 581h3v1h-3zM535 581h3v1h-3zM541 581h3v1h-3zM547 581h3v1h-3zM553 581h3v1h-3zM559 581h3v1h-3zM565 581h3v1h-3zM571 581h3v1h-3zM577 581h3v1h-3zM583 581h3v1h-3zM589 581h3v1h-3zM595 581h3v1h-3zM601 581h3v1h-3zM607 581h3v1h-3zM613 581h3v1h-3zM619 581h3v1h-3zM625 581h3v1h-3zM631 581h3v1h-3zM637 581h3v1h-3zM643 581h3v1h-3zM649 581h3v1h-3zM655 581h3v1h-3zM661 581h3v1h-3zM667 581h3v1h-3zM673 581h3v1h-3zM679 581h3v1h-3zM685 581h3v1h-3zM691 581h3v1h-3zM697 581h3v1h-3zM703 581h3v1h-3zM709 581h3v1h-3zM715 581h3v1h-3zM721 581h3v1h-3zM727 581h3v1h-3zM733 581h3v1h-3zM739 581h3v1h-3zM745 581h3v1h-3zM751 581h3v1h-3zM757 581h3v1h-3zM763 581h3v1h-3zM769 581h3v1h-3zM775 581h3v1h-3zM781 581h3v1h-3zM787 581h3v1h-3zM793 581h3v1h-3zM799 581h3v1h-3zM805 581h3v1h-3zM811 581h3v1h-3zM817 581h3v1h-3zM823 581h3v1h-3zM829 581h3v1h-3zM835 581h3v1h-3zM841 581h3v1h-3zM847 581h3v1h-3zM853 581h3v1h-3zM859 581h3v1h-3zM865 581h3v1h-3zM871 581h3v1h-3zM877 581h3v1h-3zM883 581h3v1h-3zM889 581h3v1h-3zM895 581h3v1h-3zM901 581h3v1h-3zM907 581h3v1h-3zM913 581h3v1h-3zM919 581h3v1h-3zM925 581h3v1h-3zM931 581h3v1h-3zM937 581h3v1h-3zM943 581h3v1h-3zM949 581h3v1h-3zM955 581h3v1h-3zM961 581h3v1h-3zM967 581h3v1h-3zM973 581h3v1h-3zM979 581h3v1h-3zM985 581h3v1h-3zM991 581h3v1h-3zM997 581h3v1h-3zM1003 581h3v1h-3zM1009 581h3v1h-3zM1015 581h3v1h-3zM1021 581h3v1h-3zM1027 581h3v1h-3zM1033 581h3v1h-3zM1039 581h3v1h-3zM1045 581h3v1h-3zM1051 581h3v1h-3zM1057 581h3v1h-3zM1063 581h3v1h-3zM1069 581h3v1h-3zM1075 581h3v1h-3zM1081 581h3v1h-3zM1087 581h3v1h-3zM1093 581h3v1h-3zM1099 581h3v1h-3zM1105 581h3v1h-3zM1111 581h3v1h-3zM1117 581h3v1h-3zM1123 581h3v1h-3zM1129 581h3v1h-3zM1135 581h3v1h-3zM1141 581h3v1h-3zM1147 581h3v1h-3zM1153 581h3v1h-3zM1159 581h3v1h-3zM1165 581h3v1h-3zM1171 581h3v1h-3zM1177 581h3v1h-3zM1183 581h3v1h-3zM1189 581h3v1h-3zM1195 581h3v1h-3zM1201 581h3v1h-3zM1207 581h3v1h-3zM1213 581h3v1h-3zM1219 581h3v1h-3zM1225 581h3v1h-3zM1231 581h3v1h-3zM1237 581h3v1h-3zM1243 581h3v1h-3zM1249 581h3v1h-3zM1255 581h3v1h-3zM1261 581h3v1h-3zM1267 581h3v1h-3zM1273 581h3v1h-3zM1279 581h3v1h-3zM1285 581h3v1h-3zM1291 581h3v1h-3zM1297 581h3v1h-3zM1303 581h3v1h-3zM1309 581h3v1h-3zM1315 581h3v1h-3zM1321 581h3v1h-3zM1327 581h3v1h-3zM1333 581h3v1h-3zM1339 581h3v1h-3zM1345 581h3v1h-3zM1351 581h3v1h-3zM1357 581h3v1h-3zM1363 581h3v1h-3zM1369 581h3v1h-3zM1375 581h3v1h-3zM1381 581h3v1h-3zM1387 581h3v1h-3zM1393 581h3v1h-3zM1399 581h3v1h-3zM1405 581h3v1h-3zM1411 581h3v1h-3zM1417 581h3v1h-3zM1423 581h3v1h-3zM1429 581h3v1h-3zM1435 581h3v1h-3zM1441 581h3v1h-3zM1447 581h3v1h-3zM1453 581h3v1h-3zM1459 581h3v1h-3zM1465 581h3v1h-3zM1471 581h3v1h-3zM1477 581h3v1h-3zM1483 581h3v1h-3zM1489 581h3v1h-3zM1495 581h3v1h-3zM1501 581h3v1h-3zM1507 581h3v1h-3zM1513 581h3v1h-3zM1519 581h3v1h-3zM1525 581h3v1h-3zM1531 581h3v1h-3zM1537 581h3v1h-3zM1543 581h3v1h-3zM1549 581h3v1h-3zM1555 581h3v1h-3zM1561 581h3v1h-3zM1567 581h3v1h-3zM1573 581h3v1h-3z" fill="#c0c0c0"/>
<path d="M1 618h3v1h-3zM7 618h3v1h-3zM13 618h3v1h-3zM19 618h3v1h-3zM25 618h3v1h-3zM31 618h3v1h-3zM37 618h3v1h-3zM43 618h3v1h-3zM49 618h3v1h-3zM55 618h3v1h-3zM61 618h3v1h-3zM67 618h3v1h-3zM73 618h3v1h-3zM79 618h3v1h-3zM85 618h3v1h-3zM91 618h3v1h-3zM97 618h3v1h-3zM103 618h3v1h-3zM109 618h3v1h-3zM115 618h3v1h-3zM121 618h3v1h-3zM127 618h3v1h-3zM133 618h3v1h-3zM139 618h3v1h-3zM145 618h3v1h-3zM151 618h3v1h-3zM157 618h3v1h-3zM163 618h3v1h-3zM169 618h3v1h-3zM175 618h3v1h-3zM181 618h3v1h-3zM187 618h3v1h-3zM193 618h3v1h-3zM199 618h3v1h-3zM205 618h3v1h-3zM211 618h3v1h-3zM217 618h3v1h-3zM223 618h3v1h-3zM229 618h3v1h-3zM235 618h3v1h-3zM241 618h3v1h-3zM247 618h3v1h-3zM253 618h3v1h-3zM259 618h3v1h-3zM265 618h3v1h-3zM271 618h3v1h-3zM277 618h3v1h-3zM283 618h3v1h-3zM289 618h3v1h-3zM295 618h3v1h-3zM301 618h3v1h-3zM307 618h3v1h-3zM313 618h3v1h-3zM319 618h3v1h-3zM325 618h3v1h-3zM331 618h3v1h-3zM337 618h3v1h-3zM343 618h3v1h-3zM349 618h3v1h-3zM355 618h3v1h-3zM361 618h3v1h-3zM367 618h3v1h-3zM373 618h3v1h-3zM379 618h3v1h-3zM385 618h3v1h-3zM391 618h3v1h-3zM397 618h3v1h-3zM403 618h3v1h-3zM409 618h3v1h-3zM415 618h3v1h-3zM421 618h3v1h-3zM427 618h3v1h-3zM433 618h3v1h-3zM439 618h3v1h-3zM445 618h3v1h-3zM451 618h3v1h-3zM457 618h3v1h-3zM463 618h3v1h-3zM469 618h3v1h-3zM475 618h3v1h-3zM481 618h3v1h-3zM487 618h3v1h-3zM493 618h3v1h-3zM499 618h3v1h-3zM505 618h3v1h-3zM511 618h3v1h-3zM517 618h3v1h-3zM523 618h3v1h-3zM529 618h3v1h-3zM535 618h3v1h-3zM541 618h3v1h-3zM547 618h3v1h-3zM553 618h3v1h-3zM559 618h3v1h-3zM565 618h3v1h-3zM571 618h3v1h-3zM577 618h3v1h-3zM583 618h3v1h-3zM589 618h3v1h-3zM595 618h3v1h-3zM601 618h3v1h-3zM607 618h3v1h-3zM613 618h3v1h-3zM619 618h3v1h-3zM625 618h3v1h-3zM631 618h3v1h-3zM637 618h3v1h-3zM643 618h3v1h-3zM649 618h3v1h-3zM655 618h3v1h-3zM661 618h3v1h-3zM667 618h3v1h-3zM673 618h3v1h-3zM679 618h3v1h-3zM685 618h3v1h-3zM691 618h3v1h-3zM697 618h3v1h-3zM703 618h3v1h-3zM709 618h3v1h-3zM715 618h3v1h-3zM721 618h3v1h-3zM727 618h3v1h-3zM733 618h3v1h-3zM739 618h3v1h-3zM745 618h3v1h-3zM751 618h3v1h-3zM757 618h3v1h-3zM763 618h3v1h-3zM769 618h3v1h-3zM775 618h3v1h-3zM781 618h3v1h-3zM787 618h3v1h-3zM793 618h3v1h-3zM799 618h3v1h-3zM805 618h3v1h-3zM811 618h3v1h-3zM817 618h3v1h-3zM823 618h3v1h-3zM829 618h3v1h-3zM835 618h3v1h-3zM841 618h3v1h-3zM847 618h3v1h-3zM853 618h3v1h-3zM859 618h3v1h-3zM865 618h3v1h-3zM871 618h3v1h-3zM877 618h3v1h-3zM883 618h3v1h-3zM889 618h3v1h-3zM895 618h3v1h-3zM901 618h3v1h-3zM907 618h3v1h-3zM913 618h3v1h-3zM919 618h3v1h-3zM925 618h3v1h-3zM931 618h3v1h-3zM937 618h3v1h-3zM943 618h3v1h-3zM949 618h3v1h-3zM955 618h3v1h-3zM961 618h3v1h-3zM967 618h3v1h-3zM973 618h3v1h-3zM979 618h3v1h-3zM985 618h3v1h-3zM991 618h3v1h-3zM997 618h3v1h-3zM1003 618h3v1h-3zM1009 618h3v1h-3zM1015 618h3v1h-3zM1021 618h3v1h-3zM1027 618h3v1h-3zM1033 618h3v1h-3zM1039 618h3v1h-3zM1045 618h3v1h-3zM1051 618h3v1h-3zM1057 618h3v1h-3zM1063 618h3v1h-3zM1069 618h3v1h-3zM1075 618h3v1h-3zM1081 618h3v1h-3zM1087 618h3v1h-3zM1093 618h3v1h-3zM1099 618h3v1h-3zM1105 618h3v1h-3zM1111 618h3v1h-3zM1117 618h3v1h-3zM1123 618h3v1h-3zM1129 618h3v1h-3zM1135 618h3v1h-3zM1141 618h3v1h-3zM1147 618h3v1h-3zM1153 618h3v1h-3zM1159 618h3v1h-3zM1165 618h3v1h-3zM1171 618h3v1h-3zM1177 618h3v1h-3zM1183 618h3v1h-3zM1189 618h3v1h-3zM1195 618h3v1h-3zM1201 618h3v1h-3zM1207 618h3v1h-3zM1213 618h3v1h-3zM1219 618h3v1h-3zM1225 618h3v1h-3zM1231 618h3v1h-3zM1237 618h3v1h-3zM1243 618h3v1h-3zM1249 618h3v1h-3zM1255 618h3v1h-3zM1261 618h3v1h-3zM1267 618h3v1h-3zM1273 618h3v1h-3zM1279 618h3v1h-3zM1285 618h3v1h-3zM1291 618h3v1h-3zM1297 618h3v1h-3zM1303 618h3v1h-3zM1309 618h3v1h-3zM1315 618h3v1h-3zM1321 618h3v1h-3zM1327 618h3v1h-3zM1333 618h3v1h-3zM1339 618h3v1h-3zM1345 618h3v1h-3zM1351 618h3v1h-3zM1357 618h3v1h-3zM1363 618h3v1h-3zM1369 618h3v1h-3zM1375 618h3v1h-3zM1381 618h3v1h-3zM1387 618h3v1h-3zM1393 618h3v1h-3zM1399 618h3v1h-3zM1405 618h3v1h-3zM1411 618h3v1h-3zM1417 618h3v1h-3zM1423 618h3v1h-3zM1429 618h3v1h-3zM1435 618h3v1h-3zM1441 618h3v1h-3zM1447 618h3v1h-3zM1453 618h3v1h-3zM1459 618h3v1h-3zM1465 618h3v1h-3zM1471 618h3v1h-3zM1477 618h3v1h-3zM1483 618h3v1h-3zM1489 618h3v1h-3zM1495 618h3v1h-3zM1501 618h3v1h-3zM1507 618h3v1h-3zM1513 618h3v1h-3zM1519 618h3v1h-3zM1525 618h3v1h-3zM1531 618h3v1h-3zM1537 618h3v1h-3zM1543 618h3v1h-3zM1549 618h3v1h-3zM1555 618h3v1h-3zM1561 618h3v1h-3zM1567 618h3v1h-3zM1573 618h3v1h-3z" fill="#c0c0c0"/>
<path d="M0 583h2v1h-2zM15 583h2v1h-2zM2 584h3v1h-3zM13 584h2v1h-2zM17 584h1v2h-1zM5 585h2v1h-2zM10 585h3v1h-3zM7 586h3v1h-3zM18 586h1v1h-1zM19 587h1v1h-1zM223 587h3v1h-3zM20 588h1v2h-1zM219 588h4v1h-4zM226 588h3v1h-3zM216 589h3v1h-3zM229 589h2v1h-2zM21 590h1v1h-1zM215 590h1v2h-1zM231 590h6v1h-6zM22 591h1v1h-1zM237 591h5v1h-5zM23 592h1v2h-1zM214 592h1v2h-1zM242 592h3v1h-3zM245 593h2v1h-2zM855 593h11v1h-11zM880 593h1v1h-1zM24 594h2v1h-2zM213 594h1v2h-1zM247 594h2v1h-2zM592 594h1v1h-1zM851 594h4v1h-4zM866 594h2v1h-2zM878 594h2v1h-2zM881 594h2v1h-2zM26 595h2v1h-2zM39 595h4v1h-4zM249 595h1v2h-1zM590 595h2v1h-2zM593 595h2v1h-2zM831 595h3v1h-3zM847 595h4v1h-4zM868 595h2v1h-2zM876 595h2v1h-2zM883 595h1v1h-1zM28 596h2v1h-2zM37 596h2v1h-2zM43 596h4v1h-4zM212 596h1v1h-1zM588 596h2v1h-2zM595 596h1v1h-1zM827 596h4v1h-4zM834 596h3v1h-3zM845 596h2v1h-2zM870 596h2v1h-2zM874 596h2v1h-2zM884 596h1v1h-1zM1216 596h2v1h-2zM30 597h2v1h-2zM34 597h3v1h-3zM47 597h3v1h-3zM200 597h1v1h-1zM211 597h1v2h-1zM250 597h1v2h-1zM586 597h2v1h-2zM596 597h1v1h-1zM824 597h3v1h-3zM837 597h2v1h-2zM842 597h3v1h-3zM872 597h2v1h-2zM885 597h2v1h-2zM1040 597h2v1h-2zM1214 597h2v1h-2zM1218 597h3v1h-3zM32 598h2v1h-2zM50 598h3v1h-3zM128 598h1v1h-1zM199 598h1v1h-1zM201 598h2v1h-2zM328 598h3v1h-3zM584 598h2v1h-2zM597 598h2v1h-2zM823 598h1v1h-1zM839 598h3v1h-3zM887 598h1v1h-1zM1038 598h2v1h-2zM1042 598h2v1h-2zM1080 598h3v1h-3zM1213 598h1v1h-1zM1221 598h2v1h-2zM1229 598h12v1h-12zM53 599h2v1h-2zM69 599h4v1h-4zM127 599h1v2h-1zM129 599h2v1h-2zM198 599h1v1h-1zM203 599h1v1h-1zM210 599h1v2h-1zM251 599h1v2h-1zM326 599h2v1h-2zM331 599h4v1h-4zM583 599h1v1h-1zM599 599h1v1h-1zM712 599h2v1h-2zM807 599h3v1h-3zM821 599h2v1h-2zM888 599h5v1h-5zM1036 599h2v1h-2zM1044 599h2v1h-2zM1079 599h1v1h-1zM1083 599h4v1h-4zM1211 599h2v1h-2zM1223 599h6v1h-6zM55 600h14v1h-14zM73 600h2v1h-2zM131 600h2v1h-2zM197 600h1v1h-1zM204 600h1v1h-1zM324 600h2v1h-2zM335 600h2v1h-2zM582 600h1v2h-1zM600 600h3v1h-3zM623 600h2v1h-2zM711 600h1v1h-1zM714 600h3v1h-3zM759 600h4v1h-4zM803 600h4v1h-4zM810 600h2v1h-2zM820 600h1v1h-1zM893 600h8v1h-8zM1034 600h2v1h-2zM1046 600h2v1h-2zM1078 600h1v1h-1zM1087 600h12v1h-12zM1209 600h2v1h-2zM75 601h2v1h-2zM126 601h1v1h-1zM133 601h1v1h-1zM196 601h1v2h-1zM205 601h2v1h-2zM209 601h1v2h-1zM252 601h1v1h-1zM322 601h2v1h-2zM337 601h2v1h-2zM603 601h4v1h-4zM619 601h4v1h-4zM625 601h2v1h-2zM710 601h1v2h-1zM717 601h2v1h-2zM744 601h3v1h-3zM757 601h2v1h-2zM763 601h4v1h-4zM797 601h6v1h-6zM812 601h2v1h-2zM819 601h1v1h-1zM901 601h5v1h-5zM968 601h9v1h-9zM1032 601h2v1h-2zM1048 601h2v1h-2zM1077 601h1v1h-1zM1099 601h4v1h-4zM1205 601h4v1h-4zM77 602h1v1h-1zM125 602h1v1h-1zM134 602h2v1h-2zM207 602h1v1h-1zM253 602h1v2h-1zM320 602h2v1h-2zM339 602h2v1h-2zM383 602h10v1h-10zM581 602h1v1h-1zM607 602h12v1h-12zM627 602h2v1h-2zM719 602h3v1h-3zM743 602h1v1h-1zM747 602h4v1h-4zM754 602h3v1h-3zM767 602h2v1h-2zM792 602h5v1h-5zM814 602h2v1h-2zM817 602h2v1h-2zM906 602h3v1h-3zM966 602h2v1h-2zM977 602h1v1h-1zM1031 602h1v2h-1zM1050 602h3v1h-3zM1075 602h2v1h-2zM1103 602h10v1h-10zM1199 602h6v1h-6zM78 603h2v1h-2zM124 603h1v2h-1zM136 603h5v1h-5zM195 603h1v1h-1zM208 603h1v1h-1zM318 603h2v1h-2zM341 603h1v1h-1zM351 603h4v1h-4zM367 603h4v1h-4zM381 603h2v1h-2zM393 603h2v1h-2zM580 603h1v1h-1zM629 603h1v1h-1zM709 603h1v1h-1zM722 603h2v1h-2zM742 603h1v2h-1zM751 603h3v1h-3zM769 603h1v1h-1zM791 603h1v1h-1zM816 603h1v1h-1zM909 603h2v1h-2zM965 603h1v1h-1zM978 603h1v2h-1zM1053 603h2v1h-2zM1061 603h6v1h-6zM1074 603h1v1h-1zM1113 603h2v1h-2zM1195 603h4v1h-4zM80 604h1v1h-1zM141 604h6v1h-6zM194 604h1v1h-1zM254 604h1v2h-1zM316 604h2v1h-2zM342 604h2v1h-2zM347 604h4v1h-4zM355 604h4v1h-4zM363 604h4v1h-4zM371 604h4v1h-4zM378 604h3v1h-3zM395 604h2v1h-2zM579 604h1v1h-1zM630 604h2v1h-2zM708 604h1v1h-1zM724 604h2v1h-2zM770 604h1v1h-1zM790 604h1v1h-1zM911 604h3v1h-3zM963 604h2v1h-2zM1030 604h1v2h-1zM1055 604h6v1h-6zM1067 604h4v1h-4zM1073 604h1v1h-1zM1115 604h1v1h-1zM1191 604h4v1h-4zM81 605h1v1h-1zM123 605h1v1h-1zM147 605h4v1h-4zM193 605h1v1h-1zM314 605h2v1h-2zM344 605h3v1h-3zM359 605h4v1h-4zM375 605h3v1h-3zM397 605h1v1h-1zM578 605h1v2h-1zM632 605h2v1h-2zM707 605h1v1h-1zM726 605h2v1h-2zM741 605h1v1h-1zM771 605h1v1h-1zM789 605h1v1h-1zM914 605h3v1h-3zM935 605h10v1h-10zM961 605h2v1h-2zM979 605h1v1h-1zM1071 605h2v1h-2zM1116 605h1v1h-1zM1189 605h2v1h-2zM82 606h1v1h-1zM122 606h1v1h-1zM151 606h3v1h-3zM183 606h10v1h-10zM255 606h1v2h-1zM263 606h2v1h-2zM312 606h2v1h-2zM398 606h2v1h-2zM634 606h2v1h-2zM706 606h1v2h-1zM728 606h1v1h-1zM740 606h1v1h-1zM772 606h1v1h-1zM788 606h1v1h-1zM917 606h2v1h-2zM931 606h4v1h-4zM945 606h2v1h-2zM960 606h1v1h-1zM980 606h1v1h-1zM1029 606h1v2h-1zM1117 606h2v1h-2zM1176 606h5v1h-5zM1186 606h3v1h-3zM83 607h1v1h-1zM121 607h1v2h-1zM154 607h3v1h-3zM179 607h4v1h-4zM259 607h4v1h-4zM265 607h2v1h-2zM310 607h2v1h-2zM400 607h3v1h-3zM577 607h1v1h-1zM636 607h2v1h-2zM729 607h2v1h-2zM739 607h1v1h-1zM773 607h1v1h-1zM787 607h1v1h-1zM919 607h12v1h-12zM947 607h2v1h-2zM958 607h2v1h-2zM981 607h1v1h-1zM1119 607h1v1h-1zM1175 607h1v1h-1zM1181 607h5v1h-5zM84 608h1v2h-1zM157 608h2v1h-2zM165 608h14v1h-14zM256 608h3v1h-3zM267 608h1v1h-1zM308 608h2v1h-2zM403 608h4v1h-4zM413 608h5v1h-5zM575 608h2v1h-2zM638 608h2v1h-2zM705 608h1v1h-1zM731 608h2v1h-2zM738 608h1v2h-1zM774 608h1v1h-1zM786 608h1v1h-1zM949 608h1v1h-1zM956 608h2v1h-2zM982 608h1v2h-1zM1028 608h1v2h-1zM1120 608h1v1h-1zM1174 608h1v1h-1zM117 609h4v1h-4zM159 609h6v1h-6zM268 609h1v1h-1zM306 609h2v1h-2zM407 609h6v1h-6zM418 609h3v1h-3zM571 609h4v1h-4zM640 609h5v1h-5zM663 609h11v1h-11zM687 609h3v1h-3zM703 609h2v1h-2zM733 609h1v1h-1zM775 609h1v1h-1zM785 609h1v1h-1zM950 609h2v1h-2zM954 609h2v1h-2zM991 609h6v1h-6zM1121 609h2v1h-2zM1173 609h1v1h-1zM85 610h1v1h-1zM111 610h6v1h-6zM269 610h2v1h-2zM304 610h2v1h-2zM421 610h2v1h-2zM429 610h6v1h-6zM568 610h3v1h-3zM645 610h6v1h-6zM661 610h2v1h-2zM674 610h3v1h-3zM685 610h2v1h-2zM690 610h3v1h-3zM701 610h2v1h-2zM734 610h2v1h-2zM737 610h1v1h-1zM776 610h9v1h-9zM952 610h2v1h-2zM983 610h1v1h-1zM987 610h4v1h-4zM997 610h8v1h-8zM1027 610h1v2h-1zM1123 610h2v1h-2zM1172 610h1v2h-1zM86 611h1v1h-1zM109 611h2v1h-2zM271 611h1v1h-1zM302 611h2v1h-2zM423 611h6v1h-6zM435 611h4v1h-4zM567 611h1v1h-1zM651 611h4v1h-4zM658 611h3v1h-3zM677 611h2v1h-2zM682 611h3v1h-3zM693 611h2v1h-2zM698 611h3v1h-3zM736 611h1v1h-1zM984 611h3v1h-3zM1005 611h5v1h-5zM1125 611h1v1h-1zM87 612h1v1h-1zM93 612h8v1h-8zM106 612h3v1h-3zM272 612h18v1h-18zM301 612h1v1h-1zM439 612h14v1h-14zM566 612h1v1h-1zM655 612h3v1h-3zM679 612h3v1h-3zM695 612h3v1h-3zM1010 612h3v1h-3zM1026 612h1v2h-1zM1126 612h2v1h-2zM1143 612h3v1h-3zM1159 612h3v1h-3zM1171 612h1v1h-1zM88 613h5v1h-5zM101 613h5v1h-5zM290 613h3v1h-3zM299 613h2v1h-2zM453 613h5v1h-5zM565 613h1v1h-1zM1013 613h2v1h-2zM1128 613h3v1h-3zM1141 613h2v1h-2zM1146 613h3v1h-3zM1157 613h2v1h-2zM1162 613h3v1h-3zM1170 613h1v1h-1zM293 614h2v1h-2zM297 614h2v1h-2zM458 614h2v1h-2zM552 614h2v1h-2zM563 614h2v1h-2zM1015 614h3v1h-3zM1025 614h1v2h-1zM1131 614h4v1h-4zM1138 614h3v1h-3zM1149 614h2v1h-2zM1154 614h3v1h-3zM1165 614h2v1h-2zM1169 614h1v1h-1zM295 615h2v1h-2zM460 615h2v1h-2zM520 615h18v1h-18zM550 615h2v1h-2zM554 615h3v1h-3zM562 615h1v1h-1zM1018 615h3v1h-3zM1135 615h3v1h-3zM1151 615h3v1h-3zM1167 615h2v1h-2zM462 616h2v1h-2zM519 616h1v1h-1zM538 616h3v1h-3zM548 616h2v1h-2zM557 616h2v1h-2zM561 616h1v1h-1zM1021 616h2v1h-2zM1024 616h1v1h-1zM464 617h1v1h-1zM518 617h1v1h-1zM541 617h2v1h-2zM546 617h2v1h-2zM559 617h2v1h-2zM1023 617h2v1h-2zM465 618h2v1h-2zM503 618h2v1h-2zM517 618h1v1h-1zM543 618h3v1h-3zM467 619h2v1h-2zM488 619h5v1h-5zM499 619h4v1h-4zM505 619h2v1h-2zM516 619h1v1h-1zM469 620h1v1h-1zM486 620h2v1h-2zM493 620h6v1h-6zM507 620h2v1h-2zM515 620h1v1h-1zM470 621h2v1h-2zM484 621h2v1h-2zM509 621h1v1h-1zM514 621h1v1h-1zM472 622h5v1h-5zM482 622h2v1h-2zM510 622h2v1h-2zM513 622h1v1h-1zM477 623h5v1h-5zM512 623h1v1h-1z" fill="#1e90ff"/>
<rect x="0" y="660" width="1" height="29" fill="#c0c0c0"/>
<rect x="8" y="661" width="1" height="28" fill="#c0c0c0"/>
<rect x="16" y="661" width="1" height="28" fill="#c0c0c0"/>
<rect x="24" y="662" width="1" height="27" fill="#c0c0c0"/>
<rect x="32" y="663" width="1" height="26" fill="#c0c0c0"/>
<rect x="40" y="664" width="1" height="25" fill="#c0c0c0"/>
<rect x="48" y="667" width="1" height="22" fill="#c0c0c0"/>
<rect x="56" y="670" width="1" height="19" fill="#c0c0c0"/>
<rect x="64" y="673" width="1" height="16" fill="#c0c0c0"/>
<rect x="72" y="675" width="1" height="14" fill="#c0c0c0"/>
<rect x="80" y="680" width="1" height="9" fill="#c0c0c0"/>
<rect x="96" y="688" width="1" height="6" fill="#c0c0c0"/>
<rect x="104" y="688" width="1" height="11" fill="#c0c0c0"/>
<rect x="112" y="688" width="1" height="14" fill="#c0c0c0"/>
<rect x="120" y="688" width="1" height="16" fill="#c0c0c0"/>
<rect x="128" y="688" width="1" height="13" fill="#c0c0c0"/>
<rect x="136" y="688" width="1" height="12" fill="#c0c0c0"/>
<rect x="144" y="688" width="1" height="13" fill="#c0c0c0"/>
<rect x="152" y="688" width="1" height="14" fill="#c0c0c0"/>
<rect x="160" y="688" width="1" height="16" fill="#c0c0c0"/>
<rect x="168" y="688" width="1" height="17" fill="#c0c0c0"/>
<rect x="176" y="688" width="1" height="18" fill="#c0c0c0"/>
<rect x="184" y="688" width="1" height="17" fill="#c0c0c0"/>
<rect x="192" y="688" width="1" height="16" fill="#c0c0c0"/>
<rect x="200" y="688" width="1" height="14" fill="#c0c0c0"/>
<rect x="208" y="688" width="1" height="13" fill="#c0c0c0"/>
<rect x="216" y="688" width="1" height="5" fill="#c0c0c0"/>
<rect x="224" y="686" width="1" height="3" fill="#c0c0c0"/>
<rect x="232" y="681" width="1" height="8" fill="#c0c0c0"/>
<rect x="240" y="677" width="1" height="12" fill="#c0c0c0"/>
<rect x="248" y="677" width="1" height="12" fill="#c0c0c0"/>
<rect x="256" y="685" width="1" height="4" fill="#c0c0c0"/>
<rect x="272" y="688" width="1" height="9" fill="#c0c0c0"/>
<rect x="280" y="688" width="1" height="15" fill="#c0c0c0"/>
<rect x="288" y="688" width="1" height="20" fill="#c0c0c0"/>
<rect x="296" y="688" width="1" height="27" fill="#c0c0c0"/>
<rect x="304" y="688" width="1" height="30" fill="#c0c0c0"/>
<rect x="312" y="688" width="1" height="28" fill="#c0c0c0"/>
<rect x="320" y="688" width="1" height="26" fill="#c0c0c0"/>
<rect x="328" y="688" width="1" height="21" fill="#c0c0c0"/>
<rect x="336" y="688" width="1" height="18" fill="#c0c0c0"/>
<rect x="344" y="688" width="1" height="18" fill="#c0c0c0"/>
<rect x="352" y="688" width="1" height="18" fill="#c0c0c0"/>
<rect x="360" y="688" width="1" height="18" fill="#c0c0c0"/>
<rect x="368" y="688" width="1" height="17" fill="#c0c0c0"/>
<rect x="376" y="688" width="1" height="17" fill="#c0c0c0"/>
<rect x="384" y="688" width="1" height="16" fill="#c0c0c0"/>
<rect x="392" y="688" width="1" height="14" fill="#c0c0c0"/>
<rect x="400" y="688" width="1" height="16" fill="#c0c0c0"/>
<rect x="408" y="688" width="1" height="18" fill="#c0c0c0"/>
<rect x="416" y="688" width="1" height="19" fill="#c0c0c0"/>
<rect x="424" y="688" width="1" height="22" fill="#c0c0c0"/>
<rect x="432" y="688" width="1" height="23" fill="#c0c0c0"/>
<rect x="440" y="688" width="1" height="25" fill="#c0c0c0"/>
<rect x="448" y="688" width="1" height="26" fill="#c0c0c0"/>
<rect x="456" y="688" width="1" height="28" fill="#c0c0c0"/>
<rect x="464" y="688" width="1" height="32" fill="#c0c0c0"/>
<rect x="472" y="688" width="1" height="38" fill="#c0c0c0"/>
<rect x="480" y="688" width="1" height="43" fill="#c0c0c0"/>
<rect x="488" y="688" width="1" height="46" fill="#c0c0c0"/>
<rect x="496" y="688" width="1" height="48" fill="#c0c0c0"/>
<rect x="504" y="688" width="1" height="48" fill="#c0c0c0"/>
<rect x="512" y="688" width="1" height="52" fill="#c0c0c0"/>
<rect x="520" y="688" width="1" height="52" fill="#c0c0c0"/>
<rect x="528" y="688" width="1" height="51" fill="#c0c0c0"/>
<rect x="536" y="688" width="1" height="50" fill="#c0c0c0"/>
<rect x="544" y="688" width="1" height="50" fill="#c0c0c0"/>
<rect x="552" y="688" width="1" height="49" fill="#c0c0c0"/>
<rect x="560" y="688" width="1" height="49" fill="#c0c0c0"/>
<rect x="568" y="688" width="1" height="46" fill="#c0c0c0"/>
<rect x="576" y="688" width="1" height="42" fill="#c0c0c0"/>
<rect x="584" y="688" width="1" height="35" fill="#c0c0c0"/>
<rect x="592" y="688" width="1" height="27" fill="#c0c0c0"/>
<rect x="600" y="688" width="1" height="23" fill="#c0c0c0"/>
<rect x="608" y="688" width="1" height="20" fill="#c0c0c0"/>
<rect x="616" y="688" width="1" height="18" fill="#c0c0c0"/>
<rect x="624" y="688" width="1" height="15" fill="#c0c0c0"/>
<rect x="632" y="688" width="1" height="16" fill="#c0c0c0"/>
<rect x="640" y="688" width="1" height="18" fill="#c0c0c0"/>
<rect x="648" y="688" width="1" height="20" fill="#c0c0c0"/>
<rect x="656" y="688" width="1" height="22" fill="#c0c0c0"/>
<rect x="664" y="688" width="1" height="24" fill="#c0c0c0"/>
<rect x="672" y="688" width="1" height="24" fill="#c0c0c0"/>
<rect x="680" y="688" width="1" height="26" fill="#c0c0c0"/>
<rect x="688" y="688" width="1" height="26" fill="#c0c0c0"/>
<rect x="696" y="688" width="1" height="27" fill="#c0c0c0"/>
<rect x="704" y="688" width="1" height="27" fill="#c0c0c0"/>
<rect x="712" y="688" width="1" height="22" fill="#c0c0c0"/>
<rect x="720" y="688" width="1" height="20" fill="#c0c0c0"/>
<rect x="728" y="688" width="1" height="20" fill="#c0c0c0"/>
<rect x="736" y="688" width="1" height="22" fill="#c0c0c0"/>
<rect x="744" y="688" width="1" height="20" fill="#c0c0c0"/>
<rect x="752" y="688" width="1" height="19" fill="#c0c0c0"/>
<rect x="760" y="688" width="1" height="16" fill="#c0c0c0"/>
<rect x="768" y="688" width="1" height="15" fill="#c0c0c0"/>
<rect x="776" y="688" width="1" height="19" fill="#c0c0c0"/>
<rect x="784" y="688" width="1" height="22" fill="#c0c0c0"/>
<rect x="792" y="688" width="1" height="19" fill="#c0c0c0"/>
<rect x="800" y="688" width="1" height="18" fill="#c0c0c0"/>
<rect x="808" y="688" width="1" height="15" fill="#c0c0c0"/>
<rect x="816" y="688" width="1" height="14" fill="#c0c0c0"/>
<rect x="824" y="688" width="1" height="10" fill="#c0c0c0"/>
<rect x="832" y="688" width="1" height="6" fill="#c0c0c0"/>
<rect x="840" y="688" width="1" height="4" fill="#c0c0c0"/>
<rect x="848" y="688" width="1" height="1" fill="#c0c0c0"/>
<rect x="856" y="686" width="1" height="3" fill="#c0c0c0"/>
<rect x="864" y="683" width="1" height="6" fill="#c0c0c0"/>
<rect x="872" y="683" width="1" height="6" fill="#c0c0c0"/>
<rect x="880" y="680" width="1" height="9" fill="#c0c0c0"/>
<rect x="888" y="681" width="1" height="8" fill="#c0c0c0"/>
<rect x="896" y="683" width="1" height="6" fill="#c0c0c0"/>
<rect x="904" y="684" width="1" height="5" fill="#c0c0c0"/>
<rect x="912" y="687" width="1" height="2" fill="#c0c0c0"/>
<rect x="920" y="688" width="1" height="2" fill="#c0c0c0"/>
<rect x="928" y="688" width="1" height="5" fill="#c0c0c0"/>
<rect x="936" y="688" width="1" height="7" fill="#c0c0c0"/>
<rect x="944" y="688" width="1" height="8" fill="#c0c0c0"/>
<rect x="952" y="688" width="1" height="11" fill="#c0c0c0"/>
<rect x="960" y="688" width="1" height="12" fill="#c0c0c0"/>
<rect x="968" y="688" width="1" height="11" fill="#c0c0c0"/>
<rect x="976" y="688" width="1" height="10" fill="#c0c0c0"/>
<rect x="984" y="688" width="1" height="14" fill="#c0c0c0"/>
<rect x="992" y="688" width="1" height="16" fill="#c0c0c0"/>
<rect x="1000" y="688" width="1" height="19" fill="#c0c0c0"/>
<rect x="1008" y="688" width="1" height="21" fill="#c0c0c0"/>
<rect x="1016" y="688" width="1" height="24" fill="#c0c0c0"/>
<rect x="1024" y="688" width="1" height="28" fill="#c0c0c0"/>
<rect x="1032" y="688" width="1" height="25" fill="#c0c0c0"/>
<rect x="1040" y="688" width="1" height="19" fill="#c0c0c0"/>
<rect x="1048" y="688" width="1" height="17" fill="#c0c0c0"/>
<rect x="1056" y="688" width="1" height="17" fill="#c0c0c0"/>
<rect x="1064" y="688" width="1" height="17" fill="#c0c0c0"/>
<rect x="1072" y="688" width="1" height="17" fill="#c0c0c0"/>
<rect x="1080" y="688" width="1" height="13" fill="#c0c0c0"/>
<rect x="1088" y="688" width="1" height="11" fill="#c0c0c0"/>
<rect x="1096" y="688" width="1" height="10" fill="#c0c0c0"/>
<rect x="1104" y="688" width="1" height="9" fill="#c0c0c0"/>
<rect x="1112" y="688" width="1" height="9" fill="#c0c0c0"/>
<rect x="1120" y="688" width="1" height="12" fill="#c0c0c0"/>
<rect x="1128" y="688" width="1" height="17" fill="#c0c0c0"/>
<rect x="1136" y="688" width="1" height="23" fill="#c0c0c0"/>
<rect x="1144" y="688" width="1" height="25" fill="#c0c0c0"/>
<rect x="1152" y="688" width="1" height="29" fill="#c0c0c0"/>
<rect x="1160" y="688" width="1" height="31" fill="#c0c0c0"/>
<rect x="1168" y="688" width="1" height="34" fill="#c0c0c0"/>
<rect x="1176" y="688" width="1" height="32" fill="#c0c0c0"/>
<rect x="1184" y="688" width="1" height="31" fill="#c0c0c0"/>
<rect x="1192" y="688" width="1" height="28" fill="#c0c0c0"/>
<rect x="1200" y="688" width="1" height="25" fill="#c0c0c0"/>
<rect x="1208" y="688" width="1" height="22" fill="#c0c0c0"/>
<rect x="1216" y="688" width="1" height="16" fill="#c0c0c0"/>
<rect x="1224" y="688" width="1" height="13" fill="#c0c0c0"/>
<rect x="1232" y="688" width="1" height="10" fill="#c0c0c0"/>
<rect x="1240" y="688" width="1" height="8" fill="#c0c0c0"/>
<path d="M48 662h3v1h-3zM54 662h3v1h-3zM60 662h1v1h-1zM37 663h2v1h-2zM42 663h3v1h-3zM61 663h2v1h-2zM66 663h3v1h-3zM31 664h2v1h-2zM36 664h1v1h-1zM72 664h3v1h-3zM30 665h1v1h-1zM78 665h1v1h-1zM24 666h3v1h-3zM79 666h2v1h-2zM20 668h1v1h-1zM84 668h2v1h-2zM18 669h2v1h-2zM86 669h1v1h-1zM14 671h1v1h-1zM90 671h2v1h-2zM12 672h2v1h-2zM92 672h1v1h-1zM8 674h1v1h-1zM96 674h2v1h-2zM6 675h2v1h-2zM98 675h1v1h-1zM2 677h1v1h-1zM102 677h2v1h-2zM0 678h2v1h-2zM104 678h1v1h-1zM108 680h1v1h-1zM109 681h1v1h-1zM110 682h1v1h-1zM912 683h3v1h-3zM918 683h3v1h-3zM924 683h1v1h-1zM114 684h2v1h-2zM901 684h2v1h-2zM906 684h3v1h-3zM925 684h2v1h-2zM930 684h1v1h-1zM116 685h1v1h-1zM895 685h2v1h-2zM900 685h1v1h-1zM931 685h2v1h-2zM894 686h1v1h-1zM936 686h3v1h-3zM120 687h2v1h-2zM264 687h3v1h-3zM270 687h3v1h-3zM276 687h3v1h-3zM282 687h1v1h-1zM890 687h1v1h-1zM942 687h3v1h-3zM948 687h1v1h-1zM122 688h1v1h-1zM258 688h3v1h-3zM283 688h2v1h-2zM888 688h2v1h-2zM949 688h2v1h-2zM954 688h1v1h-1zM253 689h2v1h-2zM288 689h2v1h-2zM882 689h3v1h-3zM955 689h2v1h-2zM126 690h2v1h-2zM252 690h1v1h-1zM290 690h1v1h-1zM877 690h2v1h-2zM960 690h2v1h-2zM128 691h1v1h-1zM248 691h1v1h-1zM294 691h1v1h-1zM876 691h1v1h-1zM962 691h1v1h-1zM132 692h1v1h-1zM246 692h2v1h-2zM295 692h2v1h-2zM871 692h2v1h-2zM966 692h1v1h-1zM133 693h2v1h-2zM870 693h1v1h-1zM967 693h2v1h-2zM138 694h3v1h-3zM242 694h1v1h-1zM300 694h2v1h-2zM864 694h3v1h-3zM972 694h3v1h-3zM144 695h2v1h-2zM240 695h2v1h-2zM302 695h1v1h-1zM978 695h1v1h-1zM146 696h1v1h-1zM860 696h1v1h-1zM979 696h2v1h-2zM236 697h1v1h-1zM306 697h1v1h-1zM858 697h2v1h-2zM984 697h3v1h-3zM150 698h2v1h-2zM234 698h2v1h-2zM307 698h2v1h-2zM990 698h3v1h-3zM152 699h1v1h-1zM852 699h3v1h-3zM996 699h3v1h-3zM156 700h3v1h-3zM228 700h3v1h-3zM847 700h2v1h-2zM1002 700h1v1h-1zM162 701h3v1h-3zM223 701h2v1h-2zM312 701h2v1h-2zM846 701h1v1h-1zM1003 701h2v1h-2zM1110 701h3v1h-3zM1116 701h3v1h-3zM1122 701h3v1h-3zM1128 701h3v1h-3zM1134 701h3v1h-3zM1140 701h1v1h-1zM168 702h3v1h-3zM222 702h1v1h-1zM314 702h1v1h-1zM840 702h3v1h-3zM1008 702h3v1h-3zM1104 702h3v1h-3zM1141 702h2v1h-2zM1146 702h1v1h-1zM174 703h3v1h-3zM180 703h3v1h-3zM186 703h3v1h-3zM192 703h3v1h-3zM198 703h3v1h-3zM204 703h3v1h-3zM210 703h3v1h-3zM216 703h3v1h-3zM834 703h3v1h-3zM1014 703h3v1h-3zM1020 703h1v1h-1zM1098 703h3v1h-3zM1147 703h2v1h-2zM318 704h2v1h-2zM828 704h3v1h-3zM1021 704h2v1h-2zM1093 704h2v1h-2zM1152 704h3v1h-3zM320 705h1v1h-1zM391 705h2v1h-2zM396 705h3v1h-3zM402 705h3v1h-3zM408 705h3v1h-3zM414 705h3v1h-3zM420 705h1v1h-1zM822 705h3v1h-3zM1026 705h3v1h-3zM1092 705h1v1h-1zM1158 705h1v1h-1zM324 706h3v1h-3zM390 706h1v1h-1zM421 706h2v1h-2zM426 706h3v1h-3zM432 706h3v1h-3zM805 706h2v1h-2zM810 706h3v1h-3zM816 706h3v1h-3zM1087 706h2v1h-2zM1159 706h2v1h-2zM384 707h3v1h-3zM438 707h3v1h-3zM444 707h1v1h-1zM768 707h3v1h-3zM774 707h3v1h-3zM780 707h3v1h-3zM786 707h3v1h-3zM792 707h3v1h-3zM798 707h3v1h-3zM804 707h1v1h-1zM1032 707h3v1h-3zM1038 707h3v1h-3zM1044 707h1v1h-1zM1086 707h1v1h-1zM1164 707h1v1h-1zM330 708h3v1h-3zM378 708h3v1h-3zM445 708h2v1h-2zM450 708h3v1h-3zM654 708h3v1h-3zM660 708h3v1h-3zM666 708h3v1h-3zM672 708h3v1h-3zM678 708h3v1h-3zM684 708h1v1h-1zM763 708h2v1h-2zM1045 708h2v1h-2zM1050 708h3v1h-3zM1069 708h2v1h-2zM1074 708h3v1h-3zM1080 708h3v1h-3zM1165 708h2v1h-2zM372 709h3v1h-3zM456 709h3v1h-3zM648 709h3v1h-3zM685 709h2v1h-2zM690 709h1v1h-1zM762 709h1v1h-1zM1056 709h3v1h-3zM1062 709h3v1h-3zM1068 709h1v1h-1zM1170 709h1v1h-1zM336 710h3v1h-3zM366 710h3v1h-3zM462 710h1v1h-1zM691 710h2v1h-2zM756 710h3v1h-3zM1171 710h2v1h-2zM1236 710h3v1h-3zM342 711h3v1h-3zM348 711h3v1h-3zM354 711h3v1h-3zM360 711h3v1h-3zM463 711h2v1h-2zM644 711h1v1h-1zM696 711h3v1h-3zM744 711h3v1h-3zM750 711h3v1h-3zM1176 711h2v1h-2zM1231 711h2v1h-2zM642 712h2v1h-2zM702 712h3v1h-3zM708 712h3v1h-3zM714 712h3v1h-3zM720 712h3v1h-3zM726 712h3v1h-3zM732 712h3v1h-3zM738 712h3v1h-3zM1178 712h1v1h-1zM1230 712h1v1h-1zM468 713h2v1h-2zM1226 713h1v1h-1zM470 714h1v1h-1zM636 714h3v1h-3zM1182 714h2v1h-2zM1224 714h2v1h-2zM474 715h1v1h-1zM632 715h1v1h-1zM1184 715h1v1h-1zM1188 715h3v1h-3zM1194 715h1v1h-1zM1213 715h2v1h-2zM1218 715h3v1h-3zM475 716h2v1h-2zM630 716h2v1h-2zM1195 716h2v1h-2zM1206 716h3v1h-3zM1212 716h1v1h-1zM480 717h3v1h-3zM1200 717h3v1h-3zM486 718h1v1h-1zM626 718h1v1h-1zM487 719h2v1h-2zM624 719h2v1h-2zM492 721h2v1h-2zM620 721h1v1h-1zM494 722h1v1h-1zM618 722h2v1h-2zM498 723h1v1h-1zM499 724h2v1h-2zM613 724h2v1h-2zM504 725h2v1h-2zM612 725h1v1h-1zM506 726h1v1h-1zM607 726h2v1h-2zM510 727h1v1h-1zM606 727h1v1h-1zM511 728h2v1h-2zM602 728h1v1h-1zM516 729h1v1h-1zM600 729h2v1h-2zM517 730h2v1h-2zM594 731h3v1h-3zM522 732h3v1h-3zM589 733h2v1h-2zM528 734h3v1h-3zM588 734h1v1h-1zM534 735h1v1h-1zM582 735h3v1h-3zM535 736h2v1h-2zM540 736h1v1h-1zM576 736h3v1h-3zM541 737h2v1h-2zM546 737h3v1h-3zM571 737h2v1h-2zM552 738h3v1h-3zM558 738h3v1h-3zM564 738h3v1h-3zM570 738h1v1h-1z" fill="#ff0000"/>
<rect x="1578" y="132" width="41" height="11" fill="#ff0000"/>
<rect x="1578" y="217" width="41" height="11" fill="#ff0000"/>
<rect x="1578" y="300" width="41" height="11" fill="#ff0000"/>
<rect x="1578" y="398" width="41" height="11" fill="#00ff00"/>
<rect x="1578" y="466" width="41" height="11" fill="#0000ff"/>
<rect x="1578" y="426" width="41" height="11" fill="#000"/>
<rect x="0" y="766" width="1621" height="1" fill="#e3e3e3"/>
<rect x="0" y="768" width="1621" height="1" fill="#000"/>
<rect x="0" y="769" width="1621" height="1" fill="#fff"/>
<rect x="0" y="770" width="1621" height="18" fill="#f0f0f0"/>
<rect x="0" y="788" width="1621" height="1" fill="#ffffff"/>
<rect x="0" y="789" width="1621" height="1" fill="#f8f8f8"/>
<rect x="0" y="790" width="1621" height="2" fill="#f0f0f0"/>
<rect x="0" y="792" width="1621" height="1" fill="#a0a0a0"/>
<rect x="310" y="767" width="102" height="19" fill="#fff"/>
<rect x="309" y="768" width="1" height="19" fill="#000"/>
<rect x="412" y="768" width="1" height="19" fill="#000"/>
<rect x="309" y="786" width="104" height="1" fill="#000"/>
<rect x="413" y="769" width="1" height="18" fill="#fff"/>
<rect x="105" y="771" width="1" height="14" fill="#606060"/>
<rect x="205" y="771" width="1" height="14" fill="#606060"/>
<rect x="518" y="771" width="1" height="14" fill="#606060"/>
<rect x="621" y="771" width="1" height="14" fill="#606060"/>
<rect x="725" y="771" width="1" height="14" fill="#606060"/>
<rect x="829" y="771" width="1" height="14" fill="#606060"/>
<rect x="913" y="771" width="1" height="14" fill="#606060"/>
<rect x="993" y="771" width="1" height="14" fill="#606060"/>
<rect x="1073" y="771" width="1" height="14" fill="#606060"/>
<rect x="1153" y="771" width="1" height="14" fill="#606060"/>
<rect x="1229" y="771" width="1" height="14" fill="#606060"/>
<rect x="1301" y="771" width="1" height="14" fill="#606060"/>
<rect x="1385" y="771" width="1" height="14" fill="#606060"/>
<rect x="1481" y="771" width="1" height="14" fill="#606060"/>
<rect x="1581" y="771" width="1" height="14" fill="#606060"/>
<rect x="1594" y="774" width="1" height="6" fill="#a0a0a0"/>
<rect x="1593" y="775" width="1" height="4" fill="#a0a0a0"/>
<rect x="1592" y="776" width="1" height="2" fill="#a0a0a0"/>
<rect x="1611" y="774" width="1" height="6" fill="#000"/>
<rect x="1612" y="775" width="1" height="4" fill="#000"/>
<rect x="1613" y="776" width="1" height="2" fill="#000"/>
</g>
<text x="39.5" y="9.9" font-size="9.8" fill="#505050" stroke="#505050" stroke-width="0" textLength="12.5" lengthAdjust="spacingAndGlyphs">M1</text>
<text x="67.5" y="9.9" font-size="9.8" fill="#505050" stroke="#505050" stroke-width="0" textLength="12.5" lengthAdjust="spacingAndGlyphs">M5</text>
<text x="93.5" y="9.9" font-size="9.8" fill="#505050" stroke="#505050" stroke-width="0" textLength="17.5" lengthAdjust="spacingAndGlyphs">M15</text>
<text x="121.5" y="9.9" font-size="9.8" fill="#505050" stroke="#505050" stroke-width="0" textLength="17.5" lengthAdjust="spacingAndGlyphs">M30</text>
<text x="152.3" y="9.9" font-size="9.8" fill="#505050" stroke="#505050" stroke-width="0" textLength="12" lengthAdjust="spacingAndGlyphs">H1</text>
<text x="179.5" y="9.9" font-size="9.8" fill="#505050" stroke="#505050" stroke-width="0" textLength="12.5" lengthAdjust="spacingAndGlyphs">H4</text>
<text x="208.6" y="9.9" font-size="9.8" fill="#505050" stroke="#505050" stroke-width="0" textLength="11.5" lengthAdjust="spacingAndGlyphs">D1</text>
<text x="236" y="9.9" font-size="9.8" fill="#505050" stroke="#505050" stroke-width="0" textLength="14.5" lengthAdjust="spacingAndGlyphs">W1</text>
<text x="262.7" y="9.9" font-size="9.8" fill="#505050" stroke="#505050" stroke-width="0" textLength="15" lengthAdjust="spacingAndGlyphs">MN</text>
<path d="M3 29h7v1h-7zM4 30h5v1h-5zM5 31h3v1h-3zM6 32h1v1h-1z" fill="#000" shape-rendering="crispEdges"/>
<text x="15.3" y="33.2" font-size="9.6" fill="#000" stroke="#000" stroke-width="0.3" textLength="65.2" lengthAdjust="spacingAndGlyphs">USDCAD,Daily</text>
<text x="87.5" y="33.2" font-size="9.6" fill="#000" stroke="#000" stroke-width="0.3" textLength="32" lengthAdjust="spacingAndGlyphs">1.25795</text>
<text x="123.65" y="33.2" font-size="9.6" fill="#000" stroke="#000" stroke-width="0.3" textLength="32" lengthAdjust="spacingAndGlyphs">1.25922</text>
<text x="159.8" y="33.2" font-size="9.6" fill="#000" stroke="#000" stroke-width="0.3" textLength="32" lengthAdjust="spacingAndGlyphs">1.25779</text>
<text x="195.95" y="33.2" font-size="9.6" fill="#000" stroke="#000" stroke-width="0.3" textLength="32" lengthAdjust="spacingAndGlyphs">1.25916</text>
<text x="1582.5" y="54.7" font-size="9.6" fill="#000" stroke="#000" stroke-width="0.3" textLength="32.5" lengthAdjust="spacingAndGlyphs">1.34130</text>
<text x="1582.5" y="87.7" font-size="9.6" fill="#000" stroke="#000" stroke-width="0.3" textLength="32.5" lengthAdjust="spacingAndGlyphs">1.33430</text>
<text x="1582.5" y="120.7" font-size="9.6" fill="#000" stroke="#000" stroke-width="0.3" textLength="32.5" lengthAdjust="spacingAndGlyphs">1.32710</text>
<text x="1582.5" y="153.7" font-size="9.6" fill="#000" stroke="#000" stroke-width="0.3" textLength="32.5" lengthAdjust="spacingAndGlyphs">1.31990</text>
<text x="1582.5" y="186.7" font-size="9.6" fill="#000" stroke="#000" stroke-width="0.3" textLength="32.5" lengthAdjust="spacingAndGlyphs">1.31270</text>
<text x="1582.5" y="219.7" font-size="9.6" fill="#000" stroke="#000" stroke-width="0.3" textLength="32.5" lengthAdjust="spacingAndGlyphs">1.30570</text>
<text x="1582.5" y="252.7" font-size="9.6" fill="#000" stroke="#000" stroke-width="0.3" textLength="32.5" lengthAdjust="spacingAndGlyphs">1.29850</text>
<text x="1582.5" y="285.7" font-size="9.6" fill="#000" stroke="#000" stroke-width="0.3" textLength="32.5" lengthAdjust="spacingAndGlyphs">1.29130</text>
<text x="1582.5" y="318.7" font-size="9.6" fill="#000" stroke="#000" stroke-width="0.3" textLength="32.5" lengthAdjust="spacingAndGlyphs">1.28430</text>
<text x="1582.5" y="351.7" font-size="9.6" fill="#000" stroke="#000" stroke-width="0.3" textLength="32.5" lengthAdjust="spacingAndGlyphs">1.27710</text>
<text x="1582.5" y="384.7" font-size="9.6" fill="#000" stroke="#000" stroke-width="0.3" textLength="32.5" lengthAdjust="spacingAndGlyphs">1.26990</text>
<text x="1582.5" y="417.7" font-size="9.6" fill="#000" stroke="#000" stroke-width="0.3" textLength="32.5" lengthAdjust="spacingAndGlyphs">1.26270</text>
<text x="1582.5" y="450.7" font-size="9.6" fill="#000" stroke="#000" stroke-width="0.3" textLength="32.5" lengthAdjust="spacingAndGlyphs">1.25570</text>
<text x="1582.5" y="483.7" font-size="9.6" fill="#000" stroke="#000" stroke-width="0.3" textLength="32.5" lengthAdjust="spacingAndGlyphs">1.24850</text>
<text x="1582.5" y="516.7" font-size="9.6" fill="#000" stroke="#000" stroke-width="0.3" textLength="32.5" lengthAdjust="spacingAndGlyphs">1.24130</text>
<text x="1582.5" y="549.7" font-size="9.6" fill="#000" stroke="#000" stroke-width="0.3" textLength="32.5" lengthAdjust="spacingAndGlyphs">1.23430</text>
<g shape-rendering="crispEdges">
<rect x="1578" y="132" width="41" height="11" fill="#ff0000"/>
<rect x="1578" y="217" width="41" height="11" fill="#ff0000"/>
<rect x="1578" y="300" width="41" height="11" fill="#ff0000"/>
<rect x="1578" y="398" width="41" height="11" fill="#00ff00"/>
<rect x="1578" y="466" width="41" height="11" fill="#0000ff"/>
<rect x="1578" y="426" width="41" height="11" fill="#000"/>
</g>
<text x="1582.5" y="140.5" font-size="9.6" fill="#fff" stroke="#fff" stroke-width="0.15" textLength="32.5" lengthAdjust="spacingAndGlyphs">1.32258</text>
<text x="1582.5" y="225.5" font-size="9.6" fill="#fff" stroke="#fff" stroke-width="0.15" textLength="32.5" lengthAdjust="spacingAndGlyphs">1.30415</text>
<text x="1582.5" y="308.5" font-size="9.6" fill="#fff" stroke="#fff" stroke-width="0.15" textLength="32.5" lengthAdjust="spacingAndGlyphs">1.28616</text>
<text x="1582.5" y="406.5" font-size="9.6" fill="#fff" stroke="#fff" stroke-width="0.15" textLength="32.5" lengthAdjust="spacingAndGlyphs">1.26503</text>
<text x="1582.5" y="474.5" font-size="9.6" fill="#fff" stroke="#fff" stroke-width="0.15" textLength="32.5" lengthAdjust="spacingAndGlyphs">1.25019</text>
<text x="1582.5" y="434.5" font-size="9.6" fill="#fff" stroke="#fff" stroke-width="0.15" textLength="32.5" lengthAdjust="spacingAndGlyphs">1.25916</text>
<text x="1580.5" y="561.7" font-size="9.6" fill="#000" stroke="#000" stroke-width="0.3" textLength="14.5" lengthAdjust="spacingAndGlyphs">100</text>
<text x="1580" y="584.7" font-size="9.6" fill="#000" stroke="#000" stroke-width="0.3" textLength="9.5" lengthAdjust="spacingAndGlyphs">70</text>
<text x="1580" y="621.7" font-size="9.6" fill="#000" stroke="#000" stroke-width="0.3" textLength="9.5" lengthAdjust="spacingAndGlyphs">30</text>
<text x="1580" y="643.7" font-size="9.6" fill="#000" stroke="#000" stroke-width="0.3">0</text>
<text x="1580.3" y="659.7" font-size="9.6" fill="#000" stroke="#000" stroke-width="0.3" textLength="37.2" lengthAdjust="spacingAndGlyphs">0.006444</text>
<text x="1580.3" y="691.7" font-size="9.6" fill="#000" stroke="#000" stroke-width="0.3" textLength="17.5" lengthAdjust="spacingAndGlyphs">0.00</text>
<text x="1580.3" y="742.7" font-size="9.6" fill="#000" stroke="#000" stroke-width="0.3" textLength="41.5" lengthAdjust="spacingAndGlyphs">-0.009871</text>
<text x="4" y="563.6" font-size="9.6" fill="#000" stroke="#000" stroke-width="0.3" textLength="68" lengthAdjust="spacingAndGlyphs">RSI(14) 51.8920</text>
<rect x="3" y="651" width="156" height="11" fill="#fff"/>
<text x="4.0" y="661.3" font-size="9.6" fill="#000" stroke="#000" stroke-width="0.3" textLength="65.5" lengthAdjust="spacingAndGlyphs">MACD(12,26,9)</text>
<text x="72.6" y="661.3" font-size="9.6" fill="#000" stroke="#000" stroke-width="0.3" textLength="41.3" lengthAdjust="spacingAndGlyphs">-0.001403</text>
<text x="116.6" y="661.3" font-size="9.6" fill="#000" stroke="#000" stroke-width="0.3" textLength="41.3" lengthAdjust="spacingAndGlyphs">-0.003623</text>
<text x="-0.5" y="757.8" font-size="9.8" fill="#000" stroke="#000" stroke-width="0.3" textLength="51.7" lengthAdjust="spacingAndGlyphs">26 Sep 2020</text>
<text x="62.3" y="757.8" font-size="9.8" fill="#000" stroke="#000" stroke-width="0.3" textLength="47.5" lengthAdjust="spacingAndGlyphs">6 Oct 2020</text>
<text x="126.8" y="757.8" font-size="9.8" fill="#000" stroke="#000" stroke-width="0.3" textLength="51.6" lengthAdjust="spacingAndGlyphs">15 Oct 2020</text>
<text x="190.9" y="757.8" font-size="9.8" fill="#000" stroke="#000" stroke-width="0.3" textLength="51.7" lengthAdjust="spacingAndGlyphs">24 Oct 2020</text>
<text x="255.0" y="757.8" font-size="9.8" fill="#000" stroke="#000" stroke-width="0.3" textLength="49.2" lengthAdjust="spacingAndGlyphs">3 Nov 2020</text>
<text x="318.7" y="757.8" font-size="9.8" fill="#000" stroke="#000" stroke-width="0.3" textLength="54.6" lengthAdjust="spacingAndGlyphs">12 Nov 2020</text>
<text x="383.3" y="757.8" font-size="9.8" fill="#000" stroke="#000" stroke-width="0.3" textLength="54.2" lengthAdjust="spacingAndGlyphs">21 Nov 2020</text>
<text x="446.5" y="757.8" font-size="9.8" fill="#000" stroke="#000" stroke-width="0.3" textLength="47.8" lengthAdjust="spacingAndGlyphs">1 Dec 2020</text>
<text x="510.4" y="757.8" font-size="9.8" fill="#000" stroke="#000" stroke-width="0.3" textLength="52.9" lengthAdjust="spacingAndGlyphs">10 Dec 2020</text>
<text x="574.5" y="757.8" font-size="9.8" fill="#000" stroke="#000" stroke-width="0.3" textLength="52.9" lengthAdjust="spacingAndGlyphs">19 Dec 2020</text>
<text x="639.0" y="757.8" font-size="9.8" fill="#000" stroke="#000" stroke-width="0.3" textLength="52.4" lengthAdjust="spacingAndGlyphs">30 Dec 2020</text>
<text x="702.6" y="757.8" font-size="9.8" fill="#000" stroke="#000" stroke-width="0.3" textLength="45.3" lengthAdjust="spacingAndGlyphs">9 Jan 2021</text>
<text x="766.8" y="757.8" font-size="9.8" fill="#000" stroke="#000" stroke-width="0.3" textLength="50.2" lengthAdjust="spacingAndGlyphs">19 Jan 2021</text>
<text x="830.7" y="757.8" font-size="9.8" fill="#000" stroke="#000" stroke-width="0.3" textLength="50.5" lengthAdjust="spacingAndGlyphs">28 Jan 2021</text>
<text x="894.4" y="757.8" font-size="9.8" fill="#000" stroke="#000" stroke-width="0.3" textLength="47.5" lengthAdjust="spacingAndGlyphs">6 Feb 2021</text>
<text x="958.5" y="757.8" font-size="9.8" fill="#000" stroke="#000" stroke-width="0.3" textLength="52.1" lengthAdjust="spacingAndGlyphs">16 Feb 2021</text>
<text x="1022.9" y="757.8" font-size="9.8" fill="#000" stroke="#000" stroke-width="0.3" textLength="51.7" lengthAdjust="spacingAndGlyphs">25 Feb 2021</text>
<text x="1086.6" y="757.8" font-size="9.8" fill="#000" stroke="#000" stroke-width="0.3" textLength="47.2" lengthAdjust="spacingAndGlyphs">6 Mar 2021</text>
<text x="1150.8" y="757.8" font-size="9.8" fill="#000" stroke="#000" stroke-width="0.3" textLength="52.1" lengthAdjust="spacingAndGlyphs">16 Mar 2021</text>
<text x="1214.9" y="757.8" font-size="9.8" fill="#000" stroke="#000" stroke-width="0.3" textLength="52.2" lengthAdjust="spacingAndGlyphs">25 Mar 2021</text>
<text x="13.3" y="782.7" font-size="13" fill="#6e6e6e" stroke="#6e6e6e" stroke-width="0.15" textLength="79.3" lengthAdjust="spacingAndGlyphs">EURUSD,Daily</text>
<text x="115.4" y="782.7" font-size="13" fill="#6e6e6e" stroke="#6e6e6e" stroke-width="0.15" textLength="78.4" lengthAdjust="spacingAndGlyphs">USDCHF,Daily</text>
<text x="216" y="782.7" font-size="13" fill="#6e6e6e" stroke="#6e6e6e" stroke-width="0.15" textLength="82.2" lengthAdjust="spacingAndGlyphs">AUDUSD,Daily</text>
<text x="320.2" y="782.7" font-size="13" fill="#000" stroke="#000" stroke-width="0.15" textLength="80.8" lengthAdjust="spacingAndGlyphs">USDCAD,Daily</text>
<text x="423.3" y="782.7" font-size="13" fill="#6e6e6e" stroke="#6e6e6e" stroke-width="0.15" textLength="82.7" lengthAdjust="spacingAndGlyphs">USDCNH,Daily</text>
<text x="529.4" y="782.7" font-size="13" fill="#6e6e6e" stroke="#6e6e6e" stroke-width="0.15" textLength="80" lengthAdjust="spacingAndGlyphs">EURUSD,Daily</text>
<text x="633.3" y="782.7" font-size="13" fill="#6e6e6e" stroke="#6e6e6e" stroke-width="0.15" textLength="79.7" lengthAdjust="spacingAndGlyphs">GBPUSD,Daily</text>
<text x="736.2" y="782.7" font-size="13" fill="#6e6e6e" stroke="#6e6e6e" stroke-width="0.15" textLength="80.8" lengthAdjust="spacingAndGlyphs">XAUUSD,Daily</text>
<text x="841.3" y="782.7" font-size="13" fill="#6e6e6e" stroke="#6e6e6e" stroke-width="0.15" textLength="59.2" lengthAdjust="spacingAndGlyphs">HK50,M15</text>
<text x="924.5" y="782.7" font-size="13" fill="#6e6e6e" stroke="#6e6e6e" stroke-width="0.15" textLength="55.5" lengthAdjust="spacingAndGlyphs">UK100,H1</text>
<text x="1004.4" y="782.7" font-size="13" fill="#6e6e6e" stroke="#6e6e6e" stroke-width="0.15" textLength="56.1" lengthAdjust="spacingAndGlyphs">UK100,H1</text>
<text x="1084.4" y="782.7" font-size="13" fill="#6e6e6e" stroke="#6e6e6e" stroke-width="0.15" textLength="55.6" lengthAdjust="spacingAndGlyphs">GER30,H1</text>
<text x="1163.4" y="782.7" font-size="13" fill="#6e6e6e" stroke="#6e6e6e" stroke-width="0.15" textLength="53.6" lengthAdjust="spacingAndGlyphs">FRA40,H1</text>
<text x="1239.4" y="782.7" font-size="13" fill="#6e6e6e" stroke="#6e6e6e" stroke-width="0.15" textLength="49.6" lengthAdjust="spacingAndGlyphs">USOil,H1</text>
<text x="1311.4" y="782.7" font-size="13" fill="#6e6e6e" stroke="#6e6e6e" stroke-width="0.15" textLength="62" lengthAdjust="spacingAndGlyphs">USDJPY,H1</text>
<text x="1396.4" y="782.7" font-size="13" fill="#6e6e6e" stroke="#6e6e6e" stroke-width="0.15" textLength="72.6" lengthAdjust="spacingAndGlyphs">DJ30,Weekly</text>
<text x="1491" y="782.7" font-size="13" fill="#6e6e6e" stroke="#6e6e6e" stroke-width="0.15" textLength="78.3" lengthAdjust="spacingAndGlyphs">CHINA300,H1</text>
</svg></body></html>
